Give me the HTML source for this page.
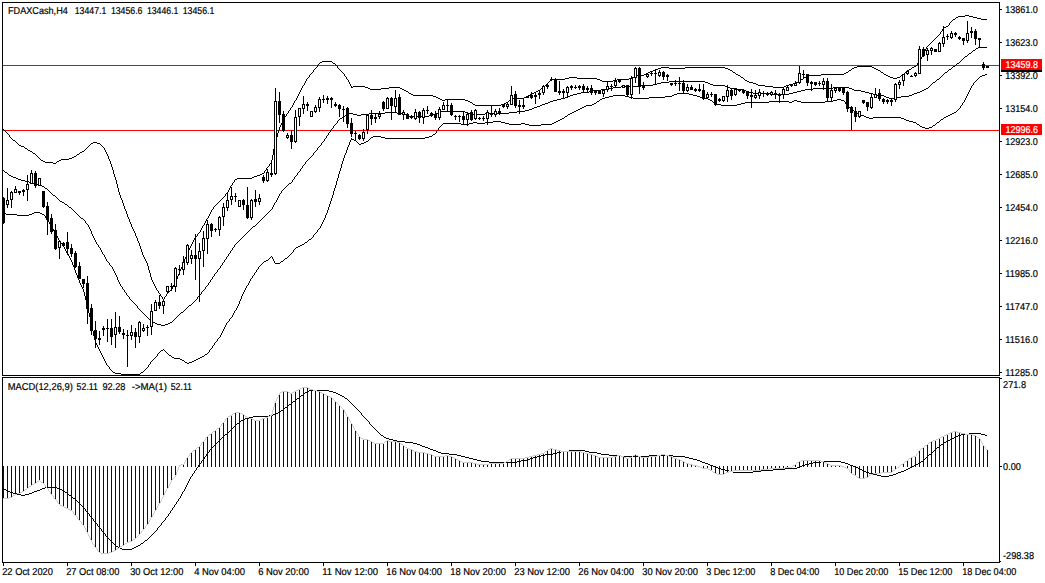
<!DOCTYPE html><html><head><meta charset="utf-8"><title>FDAXCash,H4</title>
<style>html,body{margin:0;padding:0;background:#fff;overflow:hidden}svg{display:block}text{font-family:"Liberation Sans",Arial,sans-serif;font-size:10.0px;fill:#000;white-space:pre;text-rendering:geometricPrecision;stroke:#000;stroke-width:.2px}text.w{fill:#fff;stroke:#fff}</style></head><body>
<svg width="1045" height="583" viewBox="0 0 1045 583" shape-rendering="crispEdges">
<rect x="0" y="0" width="1045" height="583" fill="#fff"/>
<rect x="3" y="65" width="997" height="1" fill="#f00"/>
<rect x="3" y="130" width="997" height="1" fill="#f00"/>
<path d="M965 15h4v1h-4zM958 16h7v1h-7zM969 16h4v1h-4zM956 17h2v1h-2zM973 17h4v1h-4zM955 18h1v1h-1zM977 18h4v1h-4zM953 19h2v1h-2zM981 19h6v1h-6zM952 20h1v1h-1zM951 21h1v1h-1zM950 22h1v1h-1zM949 23h1v1h-1zM949 24h1v1h-1zM948 25h1v1h-1zM946 26h2v1h-2zM944 27h2v1h-2zM943 28h1v1h-1zM942 29h1v1h-1zM942 30h1v1h-1zM941 31h1v1h-1zM940 32h1v1h-1zM940 33h1v1h-1zM939 34h1v1h-1zM938 35h1v1h-1zM937 36h1v1h-1zM936 37h1v1h-1zM935 38h1v1h-1zM934 39h1v1h-1zM933 40h1v1h-1zM932 41h1v1h-1zM931 42h1v1h-1zM930 43h1v1h-1zM929 44h1v1h-1zM928 45h1v1h-1zM927 46h1v1h-1zM926 47h1v1h-1zM926 48h1v1h-1zM925 49h1v1h-1zM925 50h1v1h-1zM924 51h1v1h-1zM924 52h1v1h-1zM923 53h1v1h-1zM923 54h1v1h-1zM922 55h1v1h-1zM922 56h1v1h-1zM921 57h1v1h-1zM921 58h1v1h-1zM920 59h1v1h-1zM920 60h1v1h-1zM322 61h10v1h-10zM919 61h1v1h-1zM320 62h2v1h-2zM332 62h1v1h-1zM918 62h1v1h-1zM319 63h1v1h-1zM333 63h2v1h-2zM917 63h1v1h-1zM318 64h1v1h-1zM335 64h1v1h-1zM917 64h1v1h-1zM317 65h1v1h-1zM336 65h1v1h-1zM916 65h1v1h-1zM317 66h1v1h-1zM337 66h1v1h-1zM857 66h15v1h-15zM914 66h2v1h-2zM316 67h1v1h-1zM337 67h1v1h-1zM661 67h8v1h-8zM685 67h40v1h-40zM854 67h3v1h-3zM872 67h2v1h-2zM912 67h2v1h-2zM315 68h1v1h-1zM338 68h1v1h-1zM658 68h3v1h-3zM669 68h16v1h-16zM725 68h3v1h-3zM852 68h2v1h-2zM874 68h2v1h-2zM911 68h1v1h-1zM314 69h1v1h-1zM339 69h1v1h-1zM656 69h2v1h-2zM728 69h2v1h-2zM851 69h1v1h-1zM876 69h2v1h-2zM909 69h2v1h-2zM313 70h1v1h-1zM340 70h1v1h-1zM653 70h3v1h-3zM730 70h2v1h-2zM849 70h2v1h-2zM878 70h2v1h-2zM908 70h1v1h-1zM313 71h1v1h-1zM341 71h1v1h-1zM650 71h3v1h-3zM732 71h1v1h-1zM848 71h1v1h-1zM880 71h1v1h-1zM907 71h1v1h-1zM312 72h1v1h-1zM342 72h1v1h-1zM648 72h2v1h-2zM733 72h2v1h-2zM846 72h2v1h-2zM881 72h2v1h-2zM905 72h2v1h-2zM311 73h1v1h-1zM343 73h1v1h-1zM646 73h2v1h-2zM735 73h1v1h-1zM844 73h2v1h-2zM883 73h1v1h-1zM904 73h1v1h-1zM310 74h1v1h-1zM344 74h1v1h-1zM644 74h2v1h-2zM736 74h2v1h-2zM821 74h23v1h-23zM884 74h2v1h-2zM903 74h1v1h-1zM309 75h1v1h-1zM344 75h1v1h-1zM637 75h7v1h-7zM738 75h2v1h-2zM809 75h12v1h-12zM886 75h2v1h-2zM901 75h2v1h-2zM309 76h1v1h-1zM345 76h1v1h-1zM634 76h3v1h-3zM740 76h1v1h-1zM806 76h3v1h-3zM888 76h2v1h-2zM900 76h1v1h-1zM308 77h1v1h-1zM346 77h1v1h-1zM569 77h8v1h-8zM632 77h2v1h-2zM741 77h2v1h-2zM804 77h2v1h-2zM890 77h3v1h-3zM897 77h3v1h-3zM307 78h1v1h-1zM346 78h1v1h-1zM565 78h4v1h-4zM577 78h20v1h-20zM629 78h3v1h-3zM743 78h1v1h-1zM803 78h1v1h-1zM893 78h4v1h-4zM306 79h1v1h-1zM347 79h1v1h-1zM551 79h14v1h-14zM597 79h3v1h-3zM617 79h12v1h-12zM744 79h1v1h-1zM801 79h2v1h-2zM306 80h1v1h-1zM348 80h1v1h-1zM550 80h1v1h-1zM600 80h2v1h-2zM613 80h4v1h-4zM745 80h2v1h-2zM800 80h1v1h-1zM305 81h1v1h-1zM348 81h1v1h-1zM549 81h1v1h-1zM602 81h11v1h-11zM747 81h2v1h-2zM798 81h2v1h-2zM305 82h1v1h-1zM349 82h1v1h-1zM548 82h1v1h-1zM749 82h4v1h-4zM796 82h2v1h-2zM304 83h1v1h-1zM349 83h1v1h-1zM547 83h1v1h-1zM753 83h3v1h-3zM793 83h3v1h-3zM304 84h1v1h-1zM350 84h1v1h-1zM546 84h1v1h-1zM756 84h2v1h-2zM789 84h4v1h-4zM303 85h1v1h-1zM350 85h1v1h-1zM545 85h1v1h-1zM758 85h7v1h-7zM786 85h3v1h-3zM302 86h1v1h-1zM351 86h1v1h-1zM353 86h12v1h-12zM544 86h1v1h-1zM765 86h8v1h-8zM784 86h2v1h-2zM302 87h1v1h-1zM351 87h2v1h-2zM365 87h3v1h-3zM389 87h11v1h-11zM543 87h1v1h-1zM773 87h11v1h-11zM301 88h1v1h-1zM368 88h2v1h-2zM381 88h8v1h-8zM400 88h2v1h-2zM541 88h2v1h-2zM301 89h1v1h-1zM370 89h11v1h-11zM402 89h2v1h-2zM540 89h1v1h-1zM300 90h1v1h-1zM404 90h2v1h-2zM538 90h2v1h-2zM300 91h1v1h-1zM406 91h2v1h-2zM536 91h2v1h-2zM299 92h1v1h-1zM408 92h1v1h-1zM534 92h2v1h-2zM299 93h1v1h-1zM409 93h2v1h-2zM532 93h2v1h-2zM298 94h1v1h-1zM411 94h2v1h-2zM530 94h2v1h-2zM298 95h1v1h-1zM413 95h20v1h-20zM528 95h2v1h-2zM297 96h1v1h-1zM433 96h3v1h-3zM526 96h2v1h-2zM297 97h1v1h-1zM436 97h2v1h-2zM524 97h2v1h-2zM296 98h1v1h-1zM438 98h2v1h-2zM511 98h13v1h-13zM296 99h1v1h-1zM440 99h2v1h-2zM445 99h20v1h-20zM510 99h1v1h-1zM295 100h1v1h-1zM442 100h3v1h-3zM465 100h3v1h-3zM509 100h1v1h-1zM294 101h1v1h-1zM468 101h2v1h-2zM508 101h1v1h-1zM294 102h1v1h-1zM470 102h2v1h-2zM506 102h2v1h-2zM293 103h1v1h-1zM472 103h1v1h-1zM504 103h2v1h-2zM293 104h1v1h-1zM473 104h2v1h-2zM501 104h3v1h-3zM292 105h1v1h-1zM475 105h26v1h-26zM292 106h1v1h-1zM291 107h1v1h-1zM290 108h1v1h-1zM290 109h1v1h-1zM289 110h1v1h-1zM288 111h1v1h-1zM288 112h1v1h-1zM287 113h1v1h-1zM286 114h1v1h-1zM286 115h1v1h-1zM285 116h1v1h-1zM284 117h1v1h-1zM284 118h1v1h-1zM283 119h1v1h-1zM283 120h1v1h-1zM282 121h1v1h-1zM282 122h1v1h-1zM281 123h1v1h-1zM281 124h1v1h-1zM280 125h1v1h-1zM280 126h1v1h-1zM279 127h1v1h-1zM279 128h1v1h-1zM3 129h1v1h-1zM279 129h1v1h-1zM4 130h1v1h-1zM278 130h1v1h-1zM5 131h1v1h-1zM278 131h1v1h-1zM6 132h1v1h-1zM278 132h1v1h-1zM7 133h1v1h-1zM277 133h1v1h-1zM8 134h1v1h-1zM277 134h1v1h-1zM9 135h1v1h-1zM277 135h1v1h-1zM9 136h1v1h-1zM277 136h1v1h-1zM10 137h1v1h-1zM276 137h1v1h-1zM11 138h1v1h-1zM276 138h1v1h-1zM12 139h1v1h-1zM276 139h1v1h-1zM13 140h2v1h-2zM275 140h1v1h-1zM15 141h1v1h-1zM275 141h1v1h-1zM16 142h1v1h-1zM93 142h4v1h-4zM275 142h1v1h-1zM17 143h1v1h-1zM91 143h2v1h-2zM97 143h3v1h-3zM275 143h1v1h-1zM18 144h1v1h-1zM90 144h1v1h-1zM100 144h1v1h-1zM274 144h1v1h-1zM19 145h2v1h-2zM89 145h1v1h-1zM101 145h1v1h-1zM274 145h1v1h-1zM21 146h3v1h-3zM88 146h1v1h-1zM102 146h1v1h-1zM274 146h1v1h-1zM24 147h1v1h-1zM87 147h1v1h-1zM103 147h1v1h-1zM274 147h1v1h-1zM25 148h2v1h-2zM86 148h1v1h-1zM104 148h1v1h-1zM274 148h1v1h-1zM27 149h1v1h-1zM85 149h1v1h-1zM104 149h1v1h-1zM273 149h1v1h-1zM28 150h2v1h-2zM84 150h1v1h-1zM105 150h1v1h-1zM273 150h1v1h-1zM30 151h2v1h-2zM82 151h2v1h-2zM105 151h1v1h-1zM273 151h1v1h-1zM32 152h1v1h-1zM80 152h2v1h-2zM106 152h1v1h-1zM273 152h1v1h-1zM33 153h2v1h-2zM79 153h1v1h-1zM106 153h1v1h-1zM273 153h1v1h-1zM35 154h1v1h-1zM77 154h2v1h-2zM107 154h1v1h-1zM273 154h1v1h-1zM36 155h1v1h-1zM76 155h1v1h-1zM107 155h1v1h-1zM272 155h1v1h-1zM37 156h1v1h-1zM74 156h2v1h-2zM108 156h1v1h-1zM272 156h1v1h-1zM38 157h1v1h-1zM72 157h2v1h-2zM108 157h1v1h-1zM272 157h1v1h-1zM39 158h1v1h-1zM69 158h3v1h-3zM108 158h1v1h-1zM272 158h1v1h-1zM40 159h1v1h-1zM61 159h8v1h-8zM109 159h1v1h-1zM272 159h1v1h-1zM41 160h2v1h-2zM59 160h2v1h-2zM109 160h1v1h-1zM271 160h1v1h-1zM43 161h2v1h-2zM57 161h2v1h-2zM110 161h1v1h-1zM271 161h1v1h-1zM45 162h8v1h-8zM56 162h1v1h-1zM110 162h1v1h-1zM271 162h1v1h-1zM53 163h3v1h-3zM110 163h1v1h-1zM270 163h1v1h-1zM111 164h1v1h-1zM269 164h1v1h-1zM111 165h1v1h-1zM269 165h1v1h-1zM111 166h1v1h-1zM268 166h1v1h-1zM112 167h1v1h-1zM267 167h1v1h-1zM112 168h1v1h-1zM266 168h1v1h-1zM112 169h1v1h-1zM266 169h1v1h-1zM113 170h1v1h-1zM265 170h1v1h-1zM113 171h1v1h-1zM264 171h1v1h-1zM113 172h1v1h-1zM264 172h1v1h-1zM113 173h1v1h-1zM262 173h2v1h-2zM114 174h1v1h-1zM260 174h2v1h-2zM114 175h1v1h-1zM257 175h3v1h-3zM114 176h1v1h-1zM254 176h3v1h-3zM115 177h1v1h-1zM252 177h2v1h-2zM115 178h1v1h-1zM237 178h15v1h-15zM115 179h1v1h-1zM235 179h2v1h-2zM116 180h1v1h-1zM234 180h1v1h-1zM116 181h1v1h-1zM234 181h1v1h-1zM116 182h1v1h-1zM233 182h1v1h-1zM116 183h1v1h-1zM232 183h1v1h-1zM117 184h1v1h-1zM232 184h1v1h-1zM117 185h1v1h-1zM231 185h1v1h-1zM117 186h1v1h-1zM230 186h1v1h-1zM117 187h1v1h-1zM230 187h1v1h-1zM118 188h1v1h-1zM229 188h1v1h-1zM118 189h1v1h-1zM229 189h1v1h-1zM118 190h1v1h-1zM228 190h1v1h-1zM118 191h1v1h-1zM228 191h1v1h-1zM119 192h1v1h-1zM227 192h1v1h-1zM119 193h1v1h-1zM226 193h1v1h-1zM119 194h1v1h-1zM225 194h1v1h-1zM120 195h1v1h-1zM225 195h1v1h-1zM120 196h1v1h-1zM224 196h1v1h-1zM120 197h1v1h-1zM223 197h1v1h-1zM121 198h1v1h-1zM222 198h1v1h-1zM121 199h1v1h-1zM221 199h1v1h-1zM122 200h1v1h-1zM220 200h1v1h-1zM122 201h1v1h-1zM219 201h1v1h-1zM122 202h1v1h-1zM218 202h1v1h-1zM123 203h1v1h-1zM217 203h1v1h-1zM123 204h1v1h-1zM216 204h1v1h-1zM123 205h1v1h-1zM215 205h1v1h-1zM124 206h1v1h-1zM214 206h1v1h-1zM124 207h1v1h-1zM213 207h1v1h-1zM124 208h1v1h-1zM213 208h1v1h-1zM125 209h1v1h-1zM212 209h1v1h-1zM125 210h1v1h-1zM211 210h1v1h-1zM126 211h1v1h-1zM211 211h1v1h-1zM126 212h1v1h-1zM210 212h1v1h-1zM126 213h1v1h-1zM210 213h1v1h-1zM127 214h1v1h-1zM209 214h1v1h-1zM127 215h1v1h-1zM209 215h1v1h-1zM127 216h1v1h-1zM208 216h1v1h-1zM128 217h1v1h-1zM208 217h1v1h-1zM128 218h1v1h-1zM207 218h1v1h-1zM129 219h1v1h-1zM206 219h1v1h-1zM129 220h1v1h-1zM206 220h1v1h-1zM129 221h1v1h-1zM205 221h1v1h-1zM130 222h1v1h-1zM205 222h1v1h-1zM130 223h1v1h-1zM204 223h1v1h-1zM131 224h1v1h-1zM204 224h1v1h-1zM131 225h1v1h-1zM203 225h1v1h-1zM131 226h1v1h-1zM202 226h1v1h-1zM132 227h1v1h-1zM202 227h1v1h-1zM132 228h1v1h-1zM201 228h1v1h-1zM133 229h1v1h-1zM201 229h1v1h-1zM133 230h1v1h-1zM200 230h1v1h-1zM134 231h1v1h-1zM200 231h1v1h-1zM134 232h1v1h-1zM199 232h1v1h-1zM135 233h1v1h-1zM198 233h1v1h-1zM135 234h1v1h-1zM197 234h1v1h-1zM135 235h1v1h-1zM197 235h1v1h-1zM136 236h1v1h-1zM196 236h1v1h-1zM136 237h1v1h-1zM195 237h1v1h-1zM137 238h1v1h-1zM194 238h1v1h-1zM137 239h1v1h-1zM194 239h1v1h-1zM137 240h1v1h-1zM193 240h1v1h-1zM138 241h1v1h-1zM193 241h1v1h-1zM138 242h1v1h-1zM192 242h1v1h-1zM139 243h1v1h-1zM192 243h1v1h-1zM139 244h1v1h-1zM191 244h1v1h-1zM139 245h1v1h-1zM191 245h1v1h-1zM140 246h1v1h-1zM190 246h1v1h-1zM140 247h1v1h-1zM190 247h1v1h-1zM140 248h1v1h-1zM189 248h1v1h-1zM141 249h1v1h-1zM189 249h1v1h-1zM141 250h1v1h-1zM188 250h1v1h-1zM141 251h1v1h-1zM188 251h1v1h-1zM142 252h1v1h-1zM187 252h1v1h-1zM142 253h1v1h-1zM187 253h1v1h-1zM142 254h1v1h-1zM186 254h1v1h-1zM143 255h1v1h-1zM186 255h1v1h-1zM143 256h1v1h-1zM186 256h1v1h-1zM144 257h1v1h-1zM185 257h1v1h-1zM144 258h1v1h-1zM185 258h1v1h-1zM145 259h1v1h-1zM184 259h1v1h-1zM145 260h1v1h-1zM184 260h1v1h-1zM146 261h1v1h-1zM184 261h1v1h-1zM146 262h1v1h-1zM183 262h1v1h-1zM147 263h1v1h-1zM183 263h1v1h-1zM147 264h1v1h-1zM183 264h1v1h-1zM147 265h1v1h-1zM182 265h1v1h-1zM148 266h1v1h-1zM182 266h1v1h-1zM148 267h1v1h-1zM181 267h1v1h-1zM148 268h1v1h-1zM181 268h1v1h-1zM148 269h1v1h-1zM180 269h1v1h-1zM149 270h1v1h-1zM180 270h1v1h-1zM149 271h1v1h-1zM179 271h1v1h-1zM149 272h1v1h-1zM179 272h1v1h-1zM150 273h1v1h-1zM179 273h1v1h-1zM150 274h1v1h-1zM178 274h1v1h-1zM150 275h1v1h-1zM178 275h1v1h-1zM150 276h1v1h-1zM177 276h1v1h-1zM151 277h1v1h-1zM177 277h1v1h-1zM151 278h1v1h-1zM177 278h1v1h-1zM151 279h1v1h-1zM176 279h1v1h-1zM152 280h1v1h-1zM176 280h1v1h-1zM152 281h1v1h-1zM175 281h1v1h-1zM153 282h1v1h-1zM175 282h1v1h-1zM153 283h1v1h-1zM174 283h1v1h-1zM154 284h1v1h-1zM174 284h1v1h-1zM154 285h1v1h-1zM173 285h1v1h-1zM155 286h1v1h-1zM173 286h1v1h-1zM155 287h1v1h-1zM172 287h1v1h-1zM156 288h1v1h-1zM172 288h1v1h-1zM156 289h1v1h-1zM171 289h1v1h-1zM157 290h1v1h-1zM170 290h1v1h-1zM158 291h1v1h-1zM169 291h1v1h-1zM158 292h1v1h-1zM168 292h1v1h-1zM159 293h1v1h-1zM167 293h1v1h-1zM160 294h1v1h-1zM166 294h1v1h-1zM160 295h1v1h-1zM166 295h1v1h-1zM161 296h1v1h-1zM165 296h1v1h-1zM162 297h1v1h-1zM164 297h1v1h-1zM162 298h1v1h-1zM164 298h1v1h-1zM163 299h1v1h-1z" fill="#000"/>
<path d="M978 47h9v1h-9zM976 48h2v1h-2zM975 49h1v1h-1zM973 50h2v1h-2zM972 51h1v1h-1zM971 52h1v1h-1zM969 53h2v1h-2zM968 54h1v1h-1zM967 55h1v1h-1zM965 56h2v1h-2zM964 57h1v1h-1zM963 58h1v1h-1zM962 59h1v1h-1zM961 60h1v1h-1zM960 61h1v1h-1zM959 62h1v1h-1zM957 63h2v1h-2zM956 64h1v1h-1zM955 65h1v1h-1zM953 66h2v1h-2zM952 67h1v1h-1zM951 68h1v1h-1zM949 69h2v1h-2zM948 70h1v1h-1zM947 71h1v1h-1zM945 72h2v1h-2zM944 73h1v1h-1zM943 74h1v1h-1zM942 75h1v1h-1zM941 76h1v1h-1zM940 77h1v1h-1zM939 78h1v1h-1zM937 79h2v1h-2zM936 80h1v1h-1zM669 81h36v1h-36zM935 81h1v1h-1zM661 82h8v1h-8zM705 82h3v1h-3zM933 82h2v1h-2zM657 83h4v1h-4zM708 83h2v1h-2zM932 83h1v1h-1zM653 84h4v1h-4zM710 84h3v1h-3zM931 84h1v1h-1zM641 85h12v1h-12zM713 85h12v1h-12zM930 85h1v1h-1zM621 86h20v1h-20zM725 86h3v1h-3zM929 86h1v1h-1zM613 87h8v1h-8zM728 87h2v1h-2zM833 87h16v1h-16zM928 87h1v1h-1zM609 88h4v1h-4zM730 88h7v1h-7zM813 88h20v1h-20zM849 88h3v1h-3zM926 88h2v1h-2zM601 89h8v1h-8zM737 89h7v1h-7zM805 89h8v1h-8zM852 89h2v1h-2zM924 89h2v1h-2zM593 90h8v1h-8zM744 90h2v1h-2zM801 90h4v1h-4zM854 90h7v1h-7zM922 90h2v1h-2zM589 91h4v1h-4zM746 91h3v1h-3zM797 91h4v1h-4zM861 91h4v1h-4zM920 91h2v1h-2zM581 92h8v1h-8zM749 92h4v1h-4zM793 92h4v1h-4zM865 92h4v1h-4zM917 92h3v1h-3zM577 93h4v1h-4zM753 93h20v1h-20zM789 93h4v1h-4zM869 93h4v1h-4zM914 93h3v1h-3zM573 94h4v1h-4zM773 94h16v1h-16zM873 94h4v1h-4zM912 94h2v1h-2zM570 95h3v1h-3zM877 95h7v1h-7zM909 95h3v1h-3zM568 96h2v1h-2zM884 96h2v1h-2zM901 96h8v1h-8zM565 97h3v1h-3zM886 97h3v1h-3zM897 97h4v1h-4zM561 98h4v1h-4zM889 98h8v1h-8zM557 99h4v1h-4zM553 100h4v1h-4zM550 101h3v1h-3zM548 102h2v1h-2zM545 103h3v1h-3zM542 104h3v1h-3zM540 105h2v1h-2zM537 106h3v1h-3zM534 107h3v1h-3zM532 108h2v1h-2zM529 109h3v1h-3zM525 110h4v1h-4zM441 111h24v1h-24zM517 111h8v1h-8zM385 112h12v1h-12zM438 112h3v1h-3zM465 112h3v1h-3zM509 112h8v1h-8zM349 113h4v1h-4zM369 113h16v1h-16zM397 113h7v1h-7zM436 113h2v1h-2zM468 113h2v1h-2zM485 113h24v1h-24zM347 114h2v1h-2zM353 114h4v1h-4zM361 114h8v1h-8zM404 114h2v1h-2zM433 114h3v1h-3zM470 114h15v1h-15zM345 115h2v1h-2zM357 115h4v1h-4zM406 115h3v1h-3zM429 115h4v1h-4zM344 116h1v1h-1zM409 116h20v1h-20zM342 117h2v1h-2zM340 118h2v1h-2zM339 119h1v1h-1zM338 120h1v1h-1zM337 121h1v1h-1zM337 122h1v1h-1zM336 123h1v1h-1zM335 124h1v1h-1zM334 125h1v1h-1zM333 126h1v1h-1zM333 127h1v1h-1zM332 128h1v1h-1zM331 129h1v1h-1zM330 130h1v1h-1zM330 131h1v1h-1zM329 132h1v1h-1zM328 133h1v1h-1zM328 134h1v1h-1zM327 135h1v1h-1zM326 136h1v1h-1zM326 137h1v1h-1zM325 138h1v1h-1zM324 139h1v1h-1zM324 140h1v1h-1zM323 141h1v1h-1zM322 142h1v1h-1zM321 143h1v1h-1zM321 144h1v1h-1zM320 145h1v1h-1zM319 146h1v1h-1zM318 147h1v1h-1zM317 148h1v1h-1zM317 149h1v1h-1zM316 150h1v1h-1zM315 151h1v1h-1zM314 152h1v1h-1zM313 153h1v1h-1zM313 154h1v1h-1zM312 155h1v1h-1zM311 156h1v1h-1zM310 157h1v1h-1zM309 158h1v1h-1zM308 159h1v1h-1zM307 160h1v1h-1zM306 161h1v1h-1zM305 162h1v1h-1zM305 163h1v1h-1zM304 164h1v1h-1zM303 165h1v1h-1zM302 166h1v1h-1zM302 167h1v1h-1zM301 168h1v1h-1zM300 169h1v1h-1zM3 170h1v1h-1zM300 170h1v1h-1zM4 171h1v1h-1zM299 171h1v1h-1zM5 172h2v1h-2zM298 172h1v1h-1zM7 173h1v1h-1zM297 173h1v1h-1zM8 174h1v1h-1zM297 174h1v1h-1zM9 175h2v1h-2zM296 175h1v1h-1zM11 176h2v1h-2zM295 176h1v1h-1zM13 177h3v1h-3zM294 177h1v1h-1zM16 178h2v1h-2zM294 178h1v1h-1zM18 179h3v1h-3zM293 179h1v1h-1zM21 180h4v1h-4zM292 180h1v1h-1zM25 181h4v1h-4zM292 181h1v1h-1zM29 182h4v1h-4zM291 182h1v1h-1zM33 183h4v1h-4zM289 183h2v1h-2zM37 184h3v1h-3zM288 184h1v1h-1zM40 185h2v1h-2zM287 185h1v1h-1zM42 186h2v1h-2zM286 186h1v1h-1zM44 187h1v1h-1zM285 187h1v1h-1zM45 188h2v1h-2zM284 188h1v1h-1zM47 189h1v1h-1zM283 189h1v1h-1zM48 190h1v1h-1zM282 190h1v1h-1zM49 191h1v1h-1zM281 191h1v1h-1zM50 192h1v1h-1zM281 192h1v1h-1zM51 193h1v1h-1zM280 193h1v1h-1zM52 194h1v1h-1zM279 194h1v1h-1zM53 195h2v1h-2zM279 195h1v1h-1zM55 196h1v1h-1zM278 196h1v1h-1zM56 197h1v1h-1zM278 197h1v1h-1zM57 198h1v1h-1zM277 198h1v1h-1zM58 199h1v1h-1zM277 199h1v1h-1zM59 200h1v1h-1zM276 200h1v1h-1zM60 201h2v1h-2zM276 201h1v1h-1zM62 202h2v1h-2zM275 202h1v1h-1zM64 203h1v1h-1zM274 203h1v1h-1zM65 204h2v1h-2zM274 204h1v1h-1zM67 205h1v1h-1zM273 205h1v1h-1zM68 206h1v1h-1zM273 206h1v1h-1zM69 207h2v1h-2zM272 207h1v1h-1zM71 208h1v1h-1zM272 208h1v1h-1zM72 209h1v1h-1zM271 209h1v1h-1zM73 210h1v1h-1zM270 210h1v1h-1zM74 211h1v1h-1zM269 211h1v1h-1zM75 212h1v1h-1zM268 212h1v1h-1zM76 213h1v1h-1zM267 213h1v1h-1zM77 214h1v1h-1zM266 214h1v1h-1zM78 215h1v1h-1zM265 215h1v1h-1zM79 216h1v1h-1zM264 216h1v1h-1zM80 217h1v1h-1zM263 217h1v1h-1zM81 218h2v1h-2zM262 218h1v1h-1zM83 219h1v1h-1zM261 219h1v1h-1zM84 220h1v1h-1zM260 220h1v1h-1zM85 221h1v1h-1zM259 221h1v1h-1zM85 222h1v1h-1zM258 222h1v1h-1zM86 223h1v1h-1zM257 223h1v1h-1zM87 224h1v1h-1zM256 224h1v1h-1zM88 225h1v1h-1zM255 225h1v1h-1zM88 226h1v1h-1zM253 226h2v1h-2zM89 227h1v1h-1zM252 227h1v1h-1zM89 228h1v1h-1zM251 228h1v1h-1zM90 229h1v1h-1zM250 229h1v1h-1zM90 230h1v1h-1zM249 230h1v1h-1zM91 231h1v1h-1zM248 231h1v1h-1zM91 232h1v1h-1zM247 232h1v1h-1zM91 233h1v1h-1zM246 233h1v1h-1zM92 234h1v1h-1zM245 234h1v1h-1zM92 235h1v1h-1zM244 235h1v1h-1zM93 236h1v1h-1zM243 236h1v1h-1zM93 237h1v1h-1zM242 237h1v1h-1zM94 238h1v1h-1zM241 238h1v1h-1zM94 239h1v1h-1zM240 239h1v1h-1zM95 240h1v1h-1zM239 240h1v1h-1zM95 241h1v1h-1zM238 241h1v1h-1zM96 242h1v1h-1zM237 242h1v1h-1zM96 243h1v1h-1zM236 243h1v1h-1zM97 244h1v1h-1zM235 244h1v1h-1zM98 245h1v1h-1zM234 245h1v1h-1zM98 246h1v1h-1zM234 246h1v1h-1zM99 247h1v1h-1zM233 247h1v1h-1zM100 248h1v1h-1zM232 248h1v1h-1zM100 249h1v1h-1zM232 249h1v1h-1zM101 250h1v1h-1zM231 250h1v1h-1zM101 251h1v1h-1zM230 251h1v1h-1zM102 252h1v1h-1zM230 252h1v1h-1zM102 253h1v1h-1zM229 253h1v1h-1zM103 254h1v1h-1zM228 254h1v1h-1zM104 255h1v1h-1zM228 255h1v1h-1zM104 256h1v1h-1zM227 256h1v1h-1zM105 257h1v1h-1zM226 257h1v1h-1zM105 258h1v1h-1zM226 258h1v1h-1zM106 259h1v1h-1zM225 259h1v1h-1zM106 260h1v1h-1zM224 260h1v1h-1zM107 261h1v1h-1zM224 261h1v1h-1zM108 262h1v1h-1zM223 262h1v1h-1zM109 263h1v1h-1zM222 263h1v1h-1zM109 264h1v1h-1zM222 264h1v1h-1zM110 265h1v1h-1zM221 265h1v1h-1zM111 266h1v1h-1zM220 266h1v1h-1zM112 267h1v1h-1zM220 267h1v1h-1zM112 268h1v1h-1zM219 268h1v1h-1zM113 269h1v1h-1zM218 269h1v1h-1zM113 270h1v1h-1zM217 270h1v1h-1zM114 271h1v1h-1zM217 271h1v1h-1zM114 272h1v1h-1zM216 272h1v1h-1zM115 273h1v1h-1zM215 273h1v1h-1zM115 274h1v1h-1zM214 274h1v1h-1zM116 275h1v1h-1zM214 275h1v1h-1zM116 276h1v1h-1zM213 276h1v1h-1zM117 277h1v1h-1zM212 277h1v1h-1zM117 278h1v1h-1zM212 278h1v1h-1zM117 279h1v1h-1zM211 279h1v1h-1zM118 280h1v1h-1zM210 280h1v1h-1zM118 281h1v1h-1zM210 281h1v1h-1zM119 282h1v1h-1zM209 282h1v1h-1zM119 283h1v1h-1zM208 283h1v1h-1zM120 284h1v1h-1zM208 284h1v1h-1zM120 285h1v1h-1zM207 285h1v1h-1zM121 286h1v1h-1zM206 286h1v1h-1zM122 287h1v1h-1zM205 287h1v1h-1zM122 288h1v1h-1zM205 288h1v1h-1zM123 289h1v1h-1zM204 289h1v1h-1zM124 290h1v1h-1zM203 290h1v1h-1zM124 291h1v1h-1zM202 291h1v1h-1zM125 292h1v1h-1zM201 292h1v1h-1zM126 293h1v1h-1zM201 293h1v1h-1zM126 294h1v1h-1zM200 294h1v1h-1zM127 295h1v1h-1zM199 295h1v1h-1zM128 296h1v1h-1zM198 296h1v1h-1zM129 297h1v1h-1zM197 297h1v1h-1zM129 298h1v1h-1zM197 298h1v1h-1zM130 299h1v1h-1zM196 299h1v1h-1zM131 300h1v1h-1zM195 300h1v1h-1zM132 301h1v1h-1zM194 301h1v1h-1zM133 302h1v1h-1zM193 302h1v1h-1zM134 303h1v1h-1zM192 303h1v1h-1zM135 304h1v1h-1zM191 304h1v1h-1zM136 305h1v1h-1zM189 305h2v1h-2zM137 306h1v1h-1zM188 306h1v1h-1zM137 307h1v1h-1zM187 307h1v1h-1zM138 308h1v1h-1zM186 308h1v1h-1zM139 309h1v1h-1zM185 309h1v1h-1zM140 310h1v1h-1zM184 310h1v1h-1zM141 311h1v1h-1zM183 311h1v1h-1zM142 312h1v1h-1zM181 312h2v1h-2zM143 313h1v1h-1zM180 313h1v1h-1zM144 314h1v1h-1zM179 314h1v1h-1zM145 315h1v1h-1zM178 315h1v1h-1zM146 316h1v1h-1zM177 316h1v1h-1zM147 317h1v1h-1zM176 317h1v1h-1zM148 318h1v1h-1zM175 318h1v1h-1zM149 319h2v1h-2zM174 319h1v1h-1zM151 320h1v1h-1zM173 320h1v1h-1zM152 321h1v1h-1zM172 321h1v1h-1zM153 322h2v1h-2zM170 322h2v1h-2zM155 323h2v1h-2zM168 323h2v1h-2zM157 324h4v1h-4zM165 324h3v1h-3zM161 325h4v1h-4z" fill="#000"/>
<path d="M985 74h2v1h-2zM982 75h3v1h-3zM980 76h2v1h-2zM979 77h1v1h-1zM978 78h1v1h-1zM977 79h1v1h-1zM976 80h1v1h-1zM975 81h1v1h-1zM974 82h1v1h-1zM973 83h1v1h-1zM973 84h1v1h-1zM972 85h1v1h-1zM971 86h1v1h-1zM971 87h1v1h-1zM970 88h1v1h-1zM970 89h1v1h-1zM969 90h1v1h-1zM969 91h1v1h-1zM968 92h1v1h-1zM677 93h12v1h-12zM968 93h1v1h-1zM674 94h3v1h-3zM689 94h4v1h-4zM967 94h1v1h-1zM613 95h12v1h-12zM672 95h2v1h-2zM693 95h4v1h-4zM967 95h1v1h-1zM609 96h4v1h-4zM625 96h4v1h-4zM665 96h7v1h-7zM697 96h3v1h-3zM966 96h1v1h-1zM605 97h4v1h-4zM629 97h4v1h-4zM649 97h16v1h-16zM700 97h2v1h-2zM966 97h1v1h-1zM602 98h3v1h-3zM633 98h16v1h-16zM702 98h6v1h-6zM965 98h1v1h-1zM600 99h2v1h-2zM708 99h2v1h-2zM837 99h4v1h-4zM965 99h1v1h-1zM599 100h1v1h-1zM710 100h2v1h-2zM794 100h3v1h-3zM833 100h4v1h-4zM841 100h3v1h-3zM964 100h1v1h-1zM597 101h2v1h-2zM712 101h1v1h-1zM769 101h20v1h-20zM792 101h2v1h-2zM797 101h4v1h-4zM825 101h8v1h-8zM844 101h1v1h-1zM964 101h1v1h-1zM596 102h1v1h-1zM713 102h2v1h-2zM745 102h24v1h-24zM789 102h3v1h-3zM801 102h24v1h-24zM845 102h1v1h-1zM963 102h1v1h-1zM594 103h2v1h-2zM715 103h2v1h-2zM741 103h4v1h-4zM845 103h1v1h-1zM962 103h1v1h-1zM592 104h2v1h-2zM717 104h4v1h-4zM737 104h4v1h-4zM846 104h1v1h-1zM962 104h1v1h-1zM586 105h6v1h-6zM721 105h16v1h-16zM847 105h1v1h-1zM961 105h1v1h-1zM584 106h2v1h-2zM848 106h1v1h-1zM960 106h1v1h-1zM582 107h2v1h-2zM849 107h1v1h-1zM960 107h1v1h-1zM580 108h2v1h-2zM850 108h1v1h-1zM959 108h1v1h-1zM578 109h2v1h-2zM851 109h1v1h-1zM958 109h1v1h-1zM576 110h2v1h-2zM852 110h2v1h-2zM957 110h1v1h-1zM574 111h2v1h-2zM854 111h2v1h-2zM956 111h1v1h-1zM572 112h2v1h-2zM856 112h1v1h-1zM954 112h2v1h-2zM570 113h2v1h-2zM857 113h2v1h-2zM952 113h2v1h-2zM568 114h2v1h-2zM859 114h2v1h-2zM950 114h2v1h-2zM567 115h1v1h-1zM861 115h3v1h-3zM948 115h2v1h-2zM565 116h2v1h-2zM864 116h2v1h-2zM946 116h2v1h-2zM564 117h1v1h-1zM866 117h3v1h-3zM873 117h28v1h-28zM944 117h2v1h-2zM562 118h2v1h-2zM869 118h4v1h-4zM901 118h3v1h-3zM943 118h1v1h-1zM560 119h2v1h-2zM904 119h2v1h-2zM941 119h2v1h-2zM558 120h2v1h-2zM906 120h3v1h-3zM940 120h1v1h-1zM493 121h8v1h-8zM556 121h2v1h-2zM909 121h4v1h-4zM939 121h1v1h-1zM473 122h4v1h-4zM485 122h8v1h-8zM501 122h4v1h-4zM554 122h2v1h-2zM913 122h3v1h-3zM937 122h2v1h-2zM443 123h18v1h-18zM469 123h4v1h-4zM477 123h8v1h-8zM505 123h4v1h-4zM521 123h4v1h-4zM552 123h2v1h-2zM916 123h1v1h-1zM936 123h1v1h-1zM442 124h1v1h-1zM461 124h8v1h-8zM509 124h12v1h-12zM525 124h4v1h-4zM541 124h11v1h-11zM917 124h2v1h-2zM935 124h1v1h-1zM441 125h1v1h-1zM529 125h12v1h-12zM919 125h1v1h-1zM933 125h2v1h-2zM440 126h1v1h-1zM920 126h2v1h-2zM932 126h1v1h-1zM439 127h1v1h-1zM922 127h3v1h-3zM929 127h3v1h-3zM438 128h1v1h-1zM925 128h4v1h-4zM438 129h1v1h-1zM437 130h1v1h-1zM436 131h1v1h-1zM436 132h1v1h-1zM435 133h1v1h-1zM433 134h2v1h-2zM432 135h1v1h-1zM373 136h8v1h-8zM429 136h3v1h-3zM371 137h2v1h-2zM381 137h4v1h-4zM425 137h4v1h-4zM351 138h1v1h-1zM370 138h1v1h-1zM385 138h40v1h-40zM351 139h3v1h-3zM369 139h1v1h-1zM350 140h1v1h-1zM354 140h2v1h-2zM368 140h1v1h-1zM350 141h1v1h-1zM356 141h1v1h-1zM366 141h2v1h-2zM349 142h1v1h-1zM357 142h1v1h-1zM364 142h2v1h-2zM349 143h1v1h-1zM358 143h1v1h-1zM361 143h3v1h-3zM349 144h1v1h-1zM359 144h2v1h-2zM348 145h1v1h-1zM348 146h1v1h-1zM347 147h1v1h-1zM347 148h1v1h-1zM347 149h1v1h-1zM346 150h1v1h-1zM346 151h1v1h-1zM346 152h1v1h-1zM345 153h1v1h-1zM345 154h1v1h-1zM344 155h1v1h-1zM344 156h1v1h-1zM344 157h1v1h-1zM343 158h1v1h-1zM343 159h1v1h-1zM343 160h1v1h-1zM342 161h1v1h-1zM342 162h1v1h-1zM342 163h1v1h-1zM341 164h1v1h-1zM341 165h1v1h-1zM341 166h1v1h-1zM341 167h1v1h-1zM340 168h1v1h-1zM340 169h1v1h-1zM340 170h1v1h-1zM339 171h1v1h-1zM339 172h1v1h-1zM339 173h1v1h-1zM338 174h1v1h-1zM338 175h1v1h-1zM338 176h1v1h-1zM338 177h1v1h-1zM337 178h1v1h-1zM337 179h1v1h-1zM337 180h1v1h-1zM336 181h1v1h-1zM336 182h1v1h-1zM336 183h1v1h-1zM336 184h1v1h-1zM335 185h1v1h-1zM335 186h1v1h-1zM335 187h1v1h-1zM334 188h1v1h-1zM334 189h1v1h-1zM334 190h1v1h-1zM333 191h1v1h-1zM333 192h1v1h-1zM333 193h1v1h-1zM333 194h1v1h-1zM332 195h1v1h-1zM332 196h1v1h-1zM332 197h1v1h-1zM331 198h1v1h-1zM331 199h1v1h-1zM331 200h1v1h-1zM330 201h1v1h-1zM330 202h1v1h-1zM330 203h1v1h-1zM329 204h1v1h-1zM329 205h1v1h-1zM329 206h1v1h-1zM328 207h1v1h-1zM328 208h1v1h-1zM328 209h1v1h-1zM327 210h1v1h-1zM327 211h1v1h-1zM3 212h1v1h-1zM34 212h6v1h-6zM327 212h1v1h-1zM4 213h2v1h-2zM32 213h2v1h-2zM40 213h2v1h-2zM326 213h1v1h-1zM6 214h11v1h-11zM29 214h3v1h-3zM42 214h2v1h-2zM326 214h1v1h-1zM17 215h12v1h-12zM44 215h1v1h-1zM325 215h1v1h-1zM45 216h1v1h-1zM325 216h1v1h-1zM45 217h1v1h-1zM325 217h1v1h-1zM46 218h1v1h-1zM324 218h1v1h-1zM47 219h1v1h-1zM324 219h1v1h-1zM48 220h1v1h-1zM323 220h1v1h-1zM48 221h1v1h-1zM323 221h1v1h-1zM49 222h1v1h-1zM322 222h1v1h-1zM49 223h1v1h-1zM322 223h1v1h-1zM50 224h1v1h-1zM321 224h1v1h-1zM50 225h1v1h-1zM321 225h1v1h-1zM51 226h1v1h-1zM320 226h1v1h-1zM52 227h1v1h-1zM320 227h1v1h-1zM52 228h1v1h-1zM319 228h1v1h-1zM53 229h1v1h-1zM318 229h1v1h-1zM53 230h1v1h-1zM317 230h1v1h-1zM54 231h1v1h-1zM317 231h1v1h-1zM54 232h1v1h-1zM316 232h1v1h-1zM55 233h1v1h-1zM315 233h1v1h-1zM56 234h1v1h-1zM314 234h1v1h-1zM56 235h1v1h-1zM313 235h1v1h-1zM57 236h1v1h-1zM313 236h1v1h-1zM57 237h1v1h-1zM312 237h1v1h-1zM58 238h1v1h-1zM311 238h1v1h-1zM58 239h1v1h-1zM309 239h2v1h-2zM59 240h1v1h-1zM308 240h1v1h-1zM60 241h1v1h-1zM307 241h1v1h-1zM60 242h1v1h-1zM305 242h2v1h-2zM61 243h1v1h-1zM304 243h1v1h-1zM62 244h1v1h-1zM302 244h2v1h-2zM62 245h1v1h-1zM300 245h2v1h-2zM63 246h1v1h-1zM298 246h2v1h-2zM64 247h1v1h-1zM296 247h2v1h-2zM64 248h1v1h-1zM295 248h1v1h-1zM65 249h1v1h-1zM294 249h1v1h-1zM65 250h1v1h-1zM293 250h1v1h-1zM66 251h1v1h-1zM293 251h1v1h-1zM66 252h1v1h-1zM292 252h1v1h-1zM67 253h1v1h-1zM291 253h1v1h-1zM68 254h1v1h-1zM290 254h1v1h-1zM68 255h1v1h-1zM289 255h1v1h-1zM69 256h1v1h-1zM271 256h1v1h-1zM288 256h1v1h-1zM69 257h1v1h-1zM270 257h1v1h-1zM272 257h1v1h-1zM287 257h1v1h-1zM70 258h1v1h-1zM269 258h1v1h-1zM272 258h1v1h-1zM285 258h2v1h-2zM70 259h1v1h-1zM268 259h1v1h-1zM273 259h1v1h-1zM284 259h1v1h-1zM71 260h1v1h-1zM266 260h2v1h-2zM273 260h1v1h-1zM283 260h1v1h-1zM71 261h1v1h-1zM264 261h2v1h-2zM274 261h1v1h-1zM281 261h2v1h-2zM72 262h1v1h-1zM263 262h1v1h-1zM274 262h1v1h-1zM280 262h1v1h-1zM72 263h1v1h-1zM262 263h1v1h-1zM275 263h5v1h-5zM72 264h1v1h-1zM261 264h1v1h-1zM73 265h1v1h-1zM260 265h1v1h-1zM73 266h1v1h-1zM259 266h1v1h-1zM74 267h1v1h-1zM258 267h1v1h-1zM74 268h1v1h-1zM258 268h1v1h-1zM74 269h1v1h-1zM257 269h1v1h-1zM75 270h1v1h-1zM256 270h1v1h-1zM75 271h1v1h-1zM256 271h1v1h-1zM75 272h1v1h-1zM255 272h1v1h-1zM76 273h1v1h-1zM254 273h1v1h-1zM76 274h1v1h-1zM254 274h1v1h-1zM77 275h1v1h-1zM253 275h1v1h-1zM77 276h1v1h-1zM252 276h1v1h-1zM77 277h1v1h-1zM252 277h1v1h-1zM78 278h1v1h-1zM251 278h1v1h-1zM78 279h1v1h-1zM250 279h1v1h-1zM79 280h1v1h-1zM250 280h1v1h-1zM79 281h1v1h-1zM249 281h1v1h-1zM79 282h1v1h-1zM249 282h1v1h-1zM80 283h1v1h-1zM248 283h1v1h-1zM80 284h1v1h-1zM248 284h1v1h-1zM81 285h1v1h-1zM247 285h1v1h-1zM81 286h1v1h-1zM246 286h1v1h-1zM82 287h1v1h-1zM246 287h1v1h-1zM82 288h1v1h-1zM245 288h1v1h-1zM83 289h1v1h-1zM245 289h1v1h-1zM83 290h1v1h-1zM244 290h1v1h-1zM83 291h1v1h-1zM244 291h1v1h-1zM84 292h1v1h-1zM243 292h1v1h-1zM84 293h1v1h-1zM243 293h1v1h-1zM84 294h1v1h-1zM242 294h1v1h-1zM84 295h1v1h-1zM242 295h1v1h-1zM85 296h1v1h-1zM241 296h1v1h-1zM85 297h1v1h-1zM241 297h1v1h-1zM85 298h1v1h-1zM241 298h1v1h-1zM85 299h1v1h-1zM240 299h1v1h-1zM86 300h1v1h-1zM240 300h1v1h-1zM86 301h1v1h-1zM239 301h1v1h-1zM86 302h1v1h-1zM239 302h1v1h-1zM86 303h1v1h-1zM239 303h1v1h-1zM87 304h1v1h-1zM238 304h1v1h-1zM87 305h1v1h-1zM238 305h1v1h-1zM87 306h1v1h-1zM237 306h1v1h-1zM87 307h1v1h-1zM237 307h1v1h-1zM88 308h1v1h-1zM236 308h1v1h-1zM88 309h1v1h-1zM236 309h1v1h-1zM88 310h1v1h-1zM235 310h1v1h-1zM88 311h1v1h-1zM234 311h1v1h-1zM88 312h1v1h-1zM234 312h1v1h-1zM89 313h1v1h-1zM233 313h1v1h-1zM89 314h1v1h-1zM233 314h1v1h-1zM89 315h1v1h-1zM232 315h1v1h-1zM89 316h1v1h-1zM232 316h1v1h-1zM90 317h1v1h-1zM231 317h1v1h-1zM90 318h1v1h-1zM230 318h1v1h-1zM90 319h1v1h-1zM229 319h1v1h-1zM90 320h1v1h-1zM229 320h1v1h-1zM90 321h1v1h-1zM228 321h1v1h-1zM91 322h1v1h-1zM227 322h1v1h-1zM91 323h1v1h-1zM226 323h1v1h-1zM91 324h1v1h-1zM226 324h1v1h-1zM91 325h1v1h-1zM225 325h1v1h-1zM91 326h1v1h-1zM225 326h1v1h-1zM92 327h1v1h-1zM224 327h1v1h-1zM92 328h1v1h-1zM224 328h1v1h-1zM92 329h1v1h-1zM223 329h1v1h-1zM92 330h1v1h-1zM223 330h1v1h-1zM93 331h1v1h-1zM222 331h1v1h-1zM93 332h1v1h-1zM222 332h1v1h-1zM93 333h1v1h-1zM221 333h1v1h-1zM93 334h1v1h-1zM221 334h1v1h-1zM93 335h1v1h-1zM220 335h1v1h-1zM94 336h1v1h-1zM220 336h1v1h-1zM94 337h1v1h-1zM219 337h1v1h-1zM94 338h1v1h-1zM218 338h1v1h-1zM94 339h1v1h-1zM217 339h1v1h-1zM95 340h1v1h-1zM217 340h1v1h-1zM95 341h1v1h-1zM216 341h1v1h-1zM95 342h1v1h-1zM215 342h1v1h-1zM96 343h1v1h-1zM214 343h1v1h-1zM96 344h1v1h-1zM214 344h1v1h-1zM97 345h1v1h-1zM213 345h1v1h-1zM97 346h1v1h-1zM212 346h1v1h-1zM98 347h1v1h-1zM212 347h1v1h-1zM98 348h1v1h-1zM211 348h1v1h-1zM99 349h1v1h-1zM163 349h1v1h-1zM210 349h1v1h-1zM99 350h1v1h-1zM161 350h2v1h-2zM164 350h1v1h-1zM209 350h1v1h-1zM100 351h1v1h-1zM160 351h1v1h-1zM165 351h1v1h-1zM209 351h1v1h-1zM100 352h1v1h-1zM159 352h1v1h-1zM166 352h1v1h-1zM208 352h1v1h-1zM101 353h1v1h-1zM158 353h1v1h-1zM167 353h1v1h-1zM207 353h1v1h-1zM101 354h1v1h-1zM157 354h1v1h-1zM168 354h1v1h-1zM205 354h2v1h-2zM102 355h1v1h-1zM157 355h1v1h-1zM169 355h2v1h-2zM204 355h1v1h-1zM102 356h1v1h-1zM156 356h1v1h-1zM171 356h1v1h-1zM202 356h2v1h-2zM103 357h1v1h-1zM155 357h1v1h-1zM172 357h2v1h-2zM200 357h2v1h-2zM103 358h1v1h-1zM154 358h1v1h-1zM174 358h6v1h-6zM198 358h2v1h-2zM104 359h1v1h-1zM153 359h1v1h-1zM180 359h2v1h-2zM196 359h2v1h-2zM104 360h1v1h-1zM152 360h1v1h-1zM182 360h2v1h-2zM194 360h2v1h-2zM105 361h1v1h-1zM151 361h1v1h-1zM184 361h1v1h-1zM192 361h2v1h-2zM105 362h1v1h-1zM150 362h1v1h-1zM185 362h2v1h-2zM189 362h3v1h-3zM106 363h1v1h-1zM150 363h1v1h-1zM187 363h2v1h-2zM106 364h1v1h-1zM149 364h1v1h-1zM107 365h1v1h-1zM148 365h1v1h-1zM108 366h1v1h-1zM148 366h1v1h-1zM109 367h1v1h-1zM147 367h1v1h-1zM109 368h1v1h-1zM146 368h1v1h-1zM110 369h1v1h-1zM145 369h1v1h-1zM111 370h1v1h-1zM144 370h1v1h-1zM112 371h1v1h-1zM143 371h1v1h-1zM113 372h2v1h-2zM141 372h2v1h-2zM115 373h6v1h-6zM140 373h1v1h-1zM121 374h19v1h-19z" fill="#000"/>
<path d="M3 197h1v27h-1zM2 198h3v25h-3zM7 188h1v20h-1zM6 200h3v5h-3zM11 191h1v17h-1zM10 192h3v8h-3zM15 186h1v7h-1zM14 189h3v4h-3zM19 191h1v4h-1zM18 191h3v2h-3zM23 189h1v7h-1zM22 190h3v2h-3zM27 175h1v26h-1zM26 184h3v6h-3zM31 170h1v14h-1zM30 173h3v11h-3zM35 171h1v17h-1zM34 173h3v13h-3zM39 178h1v8h-1zM38 178h3v8h-3zM43 191h1v17h-1zM42 191h3v16h-3zM47 202h1v33h-1zM46 206h3v14h-3zM51 214h1v20h-1zM50 218h3v14h-3zM55 224h1v26h-1zM54 230h3v19h-3zM59 241h1v18h-1zM58 241h3v7h-3zM63 242h1v5h-1zM62 243h3v3h-3zM67 232h1v23h-1zM66 242h3v7h-3zM71 244h1v13h-1zM70 248h3v6h-3zM75 251h1v17h-1zM74 253h3v14h-3zM79 262h1v17h-1zM78 266h3v13h-3zM83 279h1v9h-1zM82 279h3v5h-3zM87 276h1v48h-1zM86 283h3v26h-3zM91 304h1v31h-1zM90 308h3v23h-3zM95 321h1v27h-1zM94 330h3v9h-3zM99 331h1v14h-1zM98 338h3v2h-3zM103 326h1v10h-1zM102 328h3v2h-3zM107 319h1v23h-1zM106 328h3v1h-3zM111 319h1v26h-1zM110 328h3v9h-3zM115 312h1v36h-1zM114 327h3v8h-3zM119 316h1v18h-1zM118 327h3v5h-3zM123 329h1v10h-1zM122 333h3v2h-3zM127 330h1v37h-1zM126 335h3v1h-3zM131 325h1v15h-1zM130 332h3v4h-3zM135 328h1v20h-1zM134 332h3v5h-3zM139 321h1v22h-1zM138 322h3v15h-3zM143 324h1v8h-1zM142 328h3v3h-3zM147 325h1v11h-1zM146 327h3v1h-3zM151 304h1v31h-1zM150 311h3v16h-3zM155 300h1v11h-1zM154 302h3v9h-3zM159 295h1v14h-1zM158 302h3v4h-3zM163 299h1v15h-1zM162 301h3v5h-3zM167 286h1v8h-1zM166 286h3v6h-3zM171 283h1v8h-1zM170 286h3v1h-3zM175 267h1v25h-1zM174 268h3v19h-3zM179 265h1v10h-1zM178 269h3v1h-3zM183 256h1v19h-1zM182 262h3v8h-3zM187 244h1v21h-1zM186 245h3v18h-3zM191 250h1v14h-1zM190 255h3v4h-3zM195 234h1v46h-1zM194 255h3v4h-3zM199 243h1v59h-1zM198 251h3v8h-3zM203 231h1v36h-1zM202 238h3v13h-3zM207 220h1v34h-1zM206 224h3v15h-3zM211 223h1v14h-1zM210 224h3v7h-3zM215 228h1v4h-1zM214 229h3v1h-3zM219 216h1v20h-1zM218 217h3v13h-3zM223 203h1v23h-1zM222 207h3v10h-3zM227 193h1v18h-1zM226 200h3v8h-3zM231 187h1v18h-1zM230 196h3v4h-3zM235 193h1v9h-1zM234 196h3v1h-3zM239 200h1v7h-1zM238 200h3v7h-3zM243 199h1v11h-1zM242 200h3v5h-3zM247 187h1v32h-1zM246 205h3v13h-3zM251 199h1v21h-1zM250 200h3v18h-3zM255 190h1v17h-1zM254 199h3v3h-3zM259 194h1v11h-1zM258 198h3v4h-3zM263 175h1v8h-1zM262 177h3v4h-3zM267 169h1v13h-1zM266 172h3v9h-3zM271 162h1v15h-1zM270 173h3v2h-3zM275 88h1v87h-1zM274 101h3v73h-3zM279 92h1v31h-1zM278 101h3v14h-3zM283 111h1v21h-1zM282 114h3v17h-3zM287 133h1v6h-1zM286 135h3v3h-3zM291 130h1v19h-1zM290 135h3v7h-3zM295 110h1v33h-1zM294 117h3v25h-3zM299 108h1v18h-1zM298 108h3v9h-3zM303 96h1v18h-1zM302 104h3v5h-3zM307 102h1v9h-1zM306 104h3v2h-3zM311 111h1v6h-1zM310 111h3v6h-3zM315 105h1v8h-1zM314 107h3v5h-3zM319 97h1v15h-1zM318 99h3v9h-3zM323 95h1v8h-1zM322 99h3v1h-3zM327 96h1v8h-1zM326 98h3v2h-3zM331 97h1v11h-1zM330 98h3v2h-3zM335 102h1v5h-1zM334 104h3v2h-3zM339 104h1v13h-1zM338 105h3v4h-3zM343 106h1v16h-1zM342 109h3v1h-3zM347 107h1v21h-1zM346 108h3v16h-3zM351 118h1v19h-1zM350 123h3v11h-3zM355 131h1v9h-1zM354 133h3v1h-3zM359 134h1v6h-1zM358 135h3v4h-3zM363 129h1v12h-1zM362 132h3v7h-3zM367 114h1v20h-1zM366 115h3v15h-3zM371 110h1v15h-1zM370 115h3v4h-3zM375 114h1v9h-1zM374 117h3v2h-3zM379 111h1v8h-1zM378 114h3v3h-3zM383 101h1v10h-1zM382 102h3v7h-3zM387 97h1v12h-1zM386 98h3v11h-3zM391 97h1v23h-1zM390 98h3v8h-3zM395 90h1v22h-1zM394 98h3v9h-3zM399 94h1v21h-1zM398 97h3v18h-3zM403 110h1v10h-1zM402 112h3v3h-3zM407 113h1v6h-1zM406 114h3v5h-3zM411 115h1v4h-1zM410 117h3v1h-3zM415 109h1v11h-1zM414 112h3v7h-3zM419 111h1v12h-1zM418 112h3v6h-3zM423 108h1v16h-1zM422 110h3v8h-3zM427 106h1v8h-1zM426 110h3v1h-3zM431 112h1v5h-1zM430 113h3v3h-3zM435 111h1v9h-1zM434 114h3v4h-3zM439 107h1v13h-1zM438 109h3v9h-3zM443 102h1v8h-1zM442 105h3v5h-3zM447 99h1v13h-1zM446 105h3v1h-3zM451 103h1v13h-1zM450 105h3v10h-3zM455 115h1v5h-1zM454 116h3v1h-3zM459 115h1v7h-1zM458 116h3v1h-3zM463 112h1v12h-1zM462 116h3v4h-3zM467 112h1v14h-1zM466 114h3v6h-3zM471 110h1v11h-1zM470 112h3v8h-3zM475 109h1v11h-1zM474 110h3v9h-3zM479 117h1v3h-1zM478 118h3v1h-3zM483 116h1v5h-1zM482 118h3v1h-3zM487 110h1v15h-1zM486 112h3v7h-3zM491 105h1v12h-1zM490 113h3v2h-3zM495 109h1v8h-1zM494 111h3v4h-3zM499 108h1v7h-1zM498 111h3v3h-3zM503 104h1v4h-1zM502 104h3v3h-3zM507 103h1v6h-1zM506 104h3v3h-3zM511 86h1v19h-1zM510 95h3v10h-3zM515 91h1v17h-1zM514 94h3v12h-3zM519 100h1v14h-1zM518 105h3v2h-3zM523 99h1v10h-1zM522 105h3v2h-3zM527 96h1v2h-1zM526 96h3v2h-3zM531 92h1v7h-1zM530 95h3v3h-3zM535 92h1v12h-1zM534 95h3v2h-3zM539 91h1v8h-1zM538 93h3v2h-3zM543 85h1v10h-1zM542 86h3v7h-3zM547 83h1v6h-1zM546 85h3v2h-3zM551 77h1v4h-1zM550 79h3v1h-3zM555 78h1v14h-1zM554 79h3v13h-3zM559 81h1v14h-1zM558 91h3v2h-3zM563 89h1v9h-1zM562 91h3v2h-3zM567 86h1v11h-1zM566 87h3v6h-3zM571 85h1v5h-1zM570 86h3v2h-3zM575 85h1v4h-1zM574 87h3v1h-3zM579 85h1v5h-1zM578 86h3v2h-3zM583 84h1v8h-1zM582 86h3v4h-3zM587 86h1v6h-1zM586 88h3v2h-3zM591 85h1v10h-1zM590 88h3v5h-3zM595 91h1v4h-1zM594 91h3v2h-3zM599 91h1v3h-1zM598 91h3v3h-3zM603 89h1v8h-1zM602 90h3v4h-3zM607 82h1v10h-1zM606 86h3v4h-3zM611 84h1v7h-1zM610 86h3v1h-3zM615 78h1v9h-1zM614 81h3v5h-3zM619 79h1v4h-1zM618 80h3v2h-3zM623 85h1v3h-1zM622 85h3v3h-3zM627 85h1v12h-1zM626 85h3v10h-3zM631 76h1v23h-1zM630 78h3v17h-3zM635 67h1v16h-1zM634 68h3v10h-3zM639 67h1v27h-1zM638 68h3v19h-3zM643 82h1v8h-1zM642 86h3v2h-3zM647 73h1v5h-1zM646 74h3v3h-3zM651 71h1v5h-1zM650 73h3v1h-3zM655 69h1v15h-1zM654 73h3v1h-3zM659 70h1v7h-1zM658 72h3v4h-3zM663 71h1v9h-1zM662 72h3v5h-3zM667 74h1v7h-1zM666 75h3v2h-3zM671 83h1v3h-1zM670 83h3v2h-3zM675 80h1v6h-1zM674 83h3v1h-3zM679 77h1v14h-1zM678 83h3v1h-3zM683 80h1v14h-1zM682 83h3v8h-3zM687 84h1v8h-1zM686 87h3v4h-3zM691 85h1v5h-1zM690 87h3v3h-3zM695 88h1v4h-1zM694 89h3v2h-3zM699 84h1v8h-1zM698 89h3v2h-3zM703 84h1v16h-1zM702 90h3v9h-3zM707 92h1v7h-1zM706 94h3v4h-3zM711 92h1v5h-1zM710 94h3v1h-3zM715 94h1v12h-1zM714 94h3v11h-3zM719 98h1v4h-1zM718 99h3v2h-3zM723 96h1v6h-1zM722 96h3v5h-3zM727 85h1v17h-1zM726 90h3v7h-3zM731 89h1v11h-1zM730 90h3v6h-3zM735 89h1v7h-1zM734 89h3v6h-3zM739 89h1v3h-1zM738 90h3v1h-3zM743 90h1v4h-1zM742 90h3v3h-3zM747 91h1v8h-1zM746 91h3v5h-3zM751 89h1v19h-1zM750 95h3v2h-3zM755 90h1v9h-1zM754 95h3v3h-3zM759 89h1v10h-1zM758 92h3v4h-3zM763 91h1v6h-1zM762 93h3v1h-3zM767 92h1v4h-1zM766 93h3v2h-3zM771 91h1v5h-1zM770 92h3v3h-3zM775 90h1v9h-1zM774 93h3v1h-3zM779 93h1v10h-1zM778 94h3v2h-3zM783 88h1v11h-1zM782 89h3v6h-3zM787 86h1v5h-1zM786 87h3v4h-3zM791 84h1v3h-1zM790 85h3v1h-3zM795 81h1v5h-1zM794 83h3v3h-3zM799 66h1v18h-1zM798 73h3v10h-3zM803 70h1v8h-1zM802 74h3v1h-3zM807 74h1v12h-1zM806 74h3v9h-3zM811 81h1v10h-1zM810 82h3v2h-3zM815 82h1v4h-1zM814 82h3v3h-3zM819 81h1v5h-1zM818 83h3v1h-3zM823 78h1v12h-1zM822 81h3v4h-3zM827 78h1v24h-1zM826 81h3v17h-3zM831 84h1v18h-1zM830 90h3v8h-3zM835 88h1v5h-1zM834 88h3v3h-3zM839 88h1v4h-1zM838 88h3v3h-3zM843 88h1v7h-1zM842 88h3v5h-3zM847 91h1v21h-1zM846 92h3v17h-3zM851 106h1v24h-1zM850 107h3v6h-3zM855 107h1v15h-1zM854 111h3v6h-3zM859 111h1v7h-1zM858 111h3v6h-3zM863 100h1v4h-1zM862 100h3v3h-3zM867 102h1v9h-1zM866 102h3v5h-3zM871 94h1v15h-1zM870 97h3v11h-3zM875 88h1v10h-1zM874 94h3v4h-3zM879 89h1v12h-1zM878 93h3v6h-3zM883 98h1v6h-1zM882 99h3v3h-3zM887 99h1v5h-1zM886 100h3v2h-3zM891 99h1v7h-1zM890 100h3v2h-3zM895 83h1v19h-1zM894 84h3v16h-3zM899 80h1v9h-1zM898 82h3v3h-3zM903 74h1v12h-1zM902 74h3v7h-3zM907 70h1v5h-1zM906 71h3v3h-3zM911 75h1v2h-1zM910 76h3v1h-3zM915 72h1v5h-1zM914 73h3v3h-3zM919 46h1v28h-1zM918 49h3v25h-3zM923 47h1v10h-1zM922 49h3v7h-3zM927 48h1v13h-1zM926 50h3v5h-3zM931 47h1v8h-1zM930 48h3v3h-3zM935 49h1v3h-1zM934 49h3v3h-3zM939 42h1v10h-1zM938 43h3v9h-3zM943 26h1v21h-1zM942 37h3v7h-3zM947 34h1v6h-1zM946 36h3v1h-3zM951 31h1v8h-1zM950 33h3v5h-3zM955 32h1v5h-1zM954 33h3v2h-3zM959 36h1v4h-1zM958 37h3v2h-3zM963 38h1v7h-1zM962 38h3v3h-3zM967 21h1v22h-1zM966 33h3v8h-3zM971 27h1v11h-1zM970 31h3v2h-3zM975 29h1v16h-1zM974 31h3v8h-3zM979 38h1v10h-1zM978 38h3v2h-3zM983 62h1v8h-1zM982 64h3v4h-3zM987 66h1v2h-1zM986 66h3v2h-3z" fill="#000"/>
<path d="M7 201h1v3h-1zM11 193h1v6h-1zM15 190h1v2h-1zM27 185h1v4h-1zM31 174h1v9h-1zM39 179h1v6h-1zM59 242h1v5h-1zM115 328h1v6h-1zM131 333h1v2h-1zM139 323h1v13h-1zM143 329h1v1h-1zM151 312h1v14h-1zM155 303h1v7h-1zM163 302h1v3h-1zM167 287h1v4h-1zM175 269h1v17h-1zM183 263h1v6h-1zM187 246h1v16h-1zM191 256h1v2h-1zM199 252h1v6h-1zM203 239h1v11h-1zM207 225h1v13h-1zM219 218h1v11h-1zM223 208h1v8h-1zM227 201h1v6h-1zM231 197h1v2h-1zM239 201h1v5h-1zM251 201h1v16h-1zM259 199h1v2h-1zM267 173h1v7h-1zM275 102h1v71h-1zM287 136h1v1h-1zM295 118h1v23h-1zM299 109h1v7h-1zM303 105h1v3h-1zM311 112h1v4h-1zM315 108h1v3h-1zM319 100h1v7h-1zM363 133h1v5h-1zM367 116h1v13h-1zM379 115h1v1h-1zM387 99h1v9h-1zM395 99h1v7h-1zM403 113h1v1h-1zM415 113h1v5h-1zM423 111h1v6h-1zM439 110h1v7h-1zM443 106h1v3h-1zM467 115h1v4h-1zM475 111h1v7h-1zM487 113h1v5h-1zM495 112h1v2h-1zM507 105h1v1h-1zM511 96h1v8h-1zM543 87h1v5h-1zM567 88h1v4h-1zM603 91h1v2h-1zM607 87h1v2h-1zM615 82h1v3h-1zM623 86h1v1h-1zM631 79h1v15h-1zM635 69h1v8h-1zM647 75h1v1h-1zM659 73h1v2h-1zM687 88h1v2h-1zM707 95h1v2h-1zM723 97h1v3h-1zM727 91h1v5h-1zM735 90h1v4h-1zM755 96h1v1h-1zM759 93h1v2h-1zM771 93h1v1h-1zM783 90h1v4h-1zM787 88h1v2h-1zM795 84h1v1h-1zM799 74h1v8h-1zM823 82h1v2h-1zM831 91h1v6h-1zM835 89h1v1h-1zM859 112h1v4h-1zM871 98h1v9h-1zM875 95h1v2h-1zM895 85h1v14h-1zM899 83h1v1h-1zM903 75h1v5h-1zM907 72h1v1h-1zM915 74h1v1h-1zM919 50h1v23h-1zM927 51h1v3h-1zM931 49h1v1h-1zM939 44h1v7h-1zM943 38h1v5h-1zM951 34h1v3h-1zM967 34h1v6h-1z" fill="#fff"/>
<path d="M3 466h1v33h-1zM7 466h1v33h-1zM11 466h1v32h-1zM15 466h1v29h-1zM19 466h1v28h-1zM23 466h1v26h-1zM27 466h1v23h-1zM31 466h1v20h-1zM35 466h1v18h-1zM39 466h1v15h-1zM43 466h1v18h-1zM47 466h1v23h-1zM51 466h1v29h-1zM55 466h1v34h-1zM59 466h1v39h-1zM63 466h1v41h-1zM67 466h1v43h-1zM71 466h1v45h-1zM75 466h1v50h-1zM79 466h1v55h-1zM83 466h1v60h-1zM87 466h1v67h-1zM91 466h1v76h-1zM95 466h1v82h-1zM99 466h1v87h-1zM103 466h1v88h-1zM107 466h1v88h-1zM111 466h1v87h-1zM115 466h1v85h-1zM119 466h1v82h-1zM123 466h1v80h-1zM127 466h1v77h-1zM131 466h1v76h-1zM135 466h1v73h-1zM139 466h1v69h-1zM143 466h1v64h-1zM147 466h1v59h-1zM151 466h1v52h-1zM155 466h1v45h-1zM159 466h1v38h-1zM163 466h1v30h-1zM167 466h1v23h-1zM171 466h1v15h-1zM175 466h1v11h-1zM179 465h1v2h-1zM183 464h1v3h-1zM187 457h1v10h-1zM191 452h1v15h-1zM195 449h1v18h-1zM199 446h1v21h-1zM203 441h1v26h-1zM207 436h1v31h-1zM211 433h1v34h-1zM215 430h1v37h-1zM219 427h1v40h-1zM223 422h1v45h-1zM227 417h1v50h-1zM231 415h1v52h-1zM235 412h1v55h-1zM239 412h1v55h-1zM243 414h1v53h-1zM247 417h1v50h-1zM251 418h1v49h-1zM255 420h1v47h-1zM259 420h1v47h-1zM263 418h1v49h-1zM267 417h1v50h-1zM271 415h1v52h-1zM275 401h1v66h-1zM279 393h1v74h-1zM283 391h1v76h-1zM287 391h1v76h-1zM291 393h1v74h-1zM295 391h1v76h-1zM299 389h1v78h-1zM303 387h1v80h-1zM307 387h1v80h-1zM311 389h1v78h-1zM315 390h1v77h-1zM319 391h1v76h-1zM323 393h1v74h-1zM327 395h1v72h-1zM331 397h1v70h-1zM335 401h1v66h-1zM339 405h1v62h-1zM343 409h1v58h-1zM347 416h1v51h-1zM351 423h1v44h-1zM355 430h1v37h-1zM359 436h1v31h-1zM363 439h1v28h-1zM367 439h1v28h-1zM371 441h1v26h-1zM375 443h1v24h-1zM379 443h1v24h-1zM383 443h1v24h-1zM387 440h1v27h-1zM391 441h1v26h-1zM395 441h1v26h-1zM399 442h1v25h-1zM403 445h1v22h-1zM407 448h1v19h-1zM411 449h1v18h-1zM415 451h1v16h-1zM419 452h1v15h-1zM423 452h1v15h-1zM427 453h1v14h-1zM431 454h1v13h-1zM435 456h1v11h-1zM439 456h1v11h-1zM443 456h1v11h-1zM447 455h1v12h-1zM451 456h1v11h-1zM455 458h1v9h-1zM459 460h1v7h-1zM463 462h1v5h-1zM467 462h1v5h-1zM471 462h1v5h-1zM475 463h1v4h-1zM479 464h1v3h-1zM483 464h1v3h-1zM487 464h1v3h-1zM491 463h1v4h-1zM495 463h1v4h-1zM499 463h1v4h-1zM503 463h1v4h-1zM507 461h1v6h-1zM511 458h1v9h-1zM515 458h1v9h-1zM519 458h1v9h-1zM523 458h1v9h-1zM527 457h1v10h-1zM531 456h1v11h-1zM535 455h1v12h-1zM539 454h1v13h-1zM543 453h1v14h-1zM547 450h1v17h-1zM551 448h1v19h-1zM555 449h1v18h-1zM559 450h1v17h-1zM563 451h1v16h-1zM567 451h1v16h-1zM571 451h1v16h-1zM575 451h1v16h-1zM579 451h1v16h-1zM583 452h1v15h-1zM587 453h1v14h-1zM591 454h1v13h-1zM595 455h1v12h-1zM599 457h1v10h-1zM603 457h1v10h-1zM607 457h1v10h-1zM611 457h1v10h-1zM615 456h1v11h-1zM619 455h1v12h-1zM623 456h1v11h-1zM627 458h1v9h-1zM631 457h1v10h-1zM635 454h1v13h-1zM639 456h1v11h-1zM643 457h1v10h-1zM647 457h1v10h-1zM651 456h1v11h-1zM655 456h1v11h-1zM659 455h1v12h-1zM663 454h1v13h-1zM667 455h1v12h-1zM671 456h1v11h-1zM675 458h1v9h-1zM679 459h1v8h-1zM683 461h1v6h-1zM687 463h1v4h-1zM691 464h1v3h-1zM695 465h1v2h-1zM703 466h1v3h-1zM707 466h1v3h-1zM711 466h1v5h-1zM715 466h1v8h-1zM719 466h1v9h-1zM723 466h1v9h-1zM727 466h1v7h-1zM731 466h1v6h-1zM735 466h1v5h-1zM739 466h1v5h-1zM743 466h1v5h-1zM747 466h1v5h-1zM751 466h1v5h-1zM755 466h1v5h-1zM759 466h1v5h-1zM763 466h1v4h-1zM767 466h1v4h-1zM771 466h1v3h-1zM775 466h1v3h-1zM779 466h1v3h-1zM783 466h1v3h-1zM787 466h1v2h-1zM795 464h1v3h-1zM799 461h1v6h-1zM803 460h1v7h-1zM807 460h1v7h-1zM811 460h1v7h-1zM815 460h1v7h-1zM819 460h1v7h-1zM823 461h1v6h-1zM827 463h1v4h-1zM831 465h1v2h-1zM835 465h1v2h-1zM839 465h1v2h-1zM847 466h1v3h-1zM851 466h1v8h-1zM855 466h1v10h-1zM859 466h1v13h-1zM863 466h1v13h-1zM867 466h1v12h-1zM871 466h1v9h-1zM875 466h1v8h-1zM879 466h1v8h-1zM883 466h1v7h-1zM887 466h1v7h-1zM891 466h1v7h-1zM895 466h1v4h-1zM903 463h1v4h-1zM907 460h1v7h-1zM911 457h1v10h-1zM915 456h1v11h-1zM919 450h1v17h-1zM923 447h1v20h-1zM927 444h1v23h-1zM931 441h1v26h-1zM935 440h1v27h-1zM939 438h1v29h-1zM943 436h1v31h-1zM947 434h1v33h-1zM951 432h1v35h-1zM955 431h1v36h-1zM959 432h1v35h-1zM963 433h1v34h-1zM967 434h1v33h-1zM971 434h1v33h-1zM975 435h1v32h-1zM979 438h1v29h-1zM983 445h1v22h-1zM987 450h1v17h-1z" fill="#00008b"/>
<path d="M309 390h20v1h-20zM307 391h2v1h-2zM329 391h4v1h-4zM305 392h2v1h-2zM333 392h3v1h-3zM304 393h1v1h-1zM336 393h2v1h-2zM303 394h1v1h-1zM338 394h2v1h-2zM301 395h2v1h-2zM340 395h2v1h-2zM300 396h1v1h-1zM342 396h2v1h-2zM299 397h1v1h-1zM344 397h1v1h-1zM297 398h2v1h-2zM345 398h2v1h-2zM296 399h1v1h-1zM347 399h1v1h-1zM295 400h1v1h-1zM348 400h1v1h-1zM293 401h2v1h-2zM349 401h1v1h-1zM292 402h1v1h-1zM350 402h1v1h-1zM291 403h1v1h-1zM351 403h1v1h-1zM289 404h2v1h-2zM352 404h1v1h-1zM288 405h1v1h-1zM353 405h1v1h-1zM287 406h1v1h-1zM354 406h1v1h-1zM285 407h2v1h-2zM355 407h1v1h-1zM284 408h1v1h-1zM356 408h1v1h-1zM283 409h1v1h-1zM357 409h1v1h-1zM281 410h2v1h-2zM358 410h1v1h-1zM280 411h1v1h-1zM359 411h1v1h-1zM278 412h2v1h-2zM360 412h1v1h-1zM276 413h2v1h-2zM361 413h1v1h-1zM273 414h3v1h-3zM361 414h1v1h-1zM269 415h4v1h-4zM362 415h1v1h-1zM253 416h16v1h-16zM363 416h1v1h-1zM249 417h4v1h-4zM364 417h1v1h-1zM245 418h4v1h-4zM365 418h1v1h-1zM243 419h2v1h-2zM366 419h1v1h-1zM241 420h2v1h-2zM367 420h1v1h-1zM240 421h1v1h-1zM368 421h1v1h-1zM239 422h1v1h-1zM369 422h1v1h-1zM237 423h2v1h-2zM369 423h1v1h-1zM236 424h1v1h-1zM370 424h1v1h-1zM235 425h1v1h-1zM371 425h1v1h-1zM234 426h1v1h-1zM372 426h1v1h-1zM233 427h1v1h-1zM373 427h1v1h-1zM232 428h1v1h-1zM374 428h1v1h-1zM231 429h1v1h-1zM375 429h1v1h-1zM230 430h1v1h-1zM376 430h1v1h-1zM229 431h1v1h-1zM377 431h1v1h-1zM228 432h1v1h-1zM378 432h1v1h-1zM227 433h1v1h-1zM379 433h1v1h-1zM969 433h12v1h-12zM225 434h2v1h-2zM380 434h1v1h-1zM961 434h8v1h-8zM981 434h4v1h-4zM224 435h1v1h-1zM381 435h2v1h-2zM958 435h3v1h-3zM985 435h2v1h-2zM223 436h1v1h-1zM383 436h1v1h-1zM956 436h2v1h-2zM222 437h1v1h-1zM384 437h2v1h-2zM954 437h2v1h-2zM221 438h1v1h-1zM386 438h3v1h-3zM952 438h2v1h-2zM220 439h1v1h-1zM389 439h4v1h-4zM950 439h2v1h-2zM219 440h1v1h-1zM393 440h4v1h-4zM948 440h2v1h-2zM218 441h1v1h-1zM397 441h8v1h-8zM946 441h2v1h-2zM217 442h1v1h-1zM405 442h8v1h-8zM944 442h2v1h-2zM216 443h1v1h-1zM413 443h4v1h-4zM943 443h1v1h-1zM215 444h1v1h-1zM417 444h3v1h-3zM941 444h2v1h-2zM214 445h1v1h-1zM420 445h2v1h-2zM940 445h1v1h-1zM213 446h1v1h-1zM422 446h3v1h-3zM939 446h1v1h-1zM212 447h1v1h-1zM425 447h3v1h-3zM937 447h2v1h-2zM211 448h1v1h-1zM428 448h2v1h-2zM936 448h1v1h-1zM210 449h1v1h-1zM430 449h3v1h-3zM935 449h1v1h-1zM209 450h1v1h-1zM433 450h3v1h-3zM569 450h16v1h-16zM934 450h1v1h-1zM209 451h1v1h-1zM436 451h2v1h-2zM561 451h8v1h-8zM585 451h4v1h-4zM933 451h1v1h-1zM208 452h1v1h-1zM438 452h3v1h-3zM557 452h4v1h-4zM589 452h8v1h-8zM932 452h1v1h-1zM207 453h1v1h-1zM441 453h8v1h-8zM553 453h4v1h-4zM597 453h4v1h-4zM931 453h1v1h-1zM206 454h1v1h-1zM449 454h8v1h-8zM545 454h8v1h-8zM601 454h8v1h-8zM929 454h2v1h-2zM206 455h1v1h-1zM457 455h4v1h-4zM541 455h4v1h-4zM609 455h12v1h-12zM649 455h24v1h-24zM928 455h1v1h-1zM205 456h1v1h-1zM461 456h4v1h-4zM537 456h4v1h-4zM621 456h28v1h-28zM673 456h12v1h-12zM927 456h1v1h-1zM204 457h1v1h-1zM465 457h4v1h-4zM533 457h4v1h-4zM685 457h4v1h-4zM926 457h1v1h-1zM204 458h1v1h-1zM469 458h4v1h-4zM530 458h3v1h-3zM689 458h4v1h-4zM925 458h1v1h-1zM203 459h1v1h-1zM473 459h4v1h-4zM528 459h2v1h-2zM693 459h4v1h-4zM924 459h1v1h-1zM202 460h1v1h-1zM477 460h4v1h-4zM521 460h7v1h-7zM697 460h3v1h-3zM923 460h1v1h-1zM201 461h1v1h-1zM481 461h8v1h-8zM517 461h4v1h-4zM700 461h2v1h-2zM821 461h20v1h-20zM921 461h2v1h-2zM201 462h1v1h-1zM489 462h28v1h-28zM702 462h3v1h-3zM813 462h8v1h-8zM841 462h4v1h-4zM920 462h1v1h-1zM200 463h1v1h-1zM705 463h3v1h-3zM809 463h4v1h-4zM845 463h3v1h-3zM918 463h2v1h-2zM199 464h1v1h-1zM708 464h2v1h-2zM805 464h4v1h-4zM848 464h2v1h-2zM916 464h2v1h-2zM198 465h1v1h-1zM710 465h3v1h-3zM802 465h3v1h-3zM850 465h3v1h-3zM914 465h2v1h-2zM198 466h1v1h-1zM713 466h3v1h-3zM800 466h2v1h-2zM853 466h3v1h-3zM912 466h2v1h-2zM197 467h1v1h-1zM716 467h2v1h-2zM797 467h3v1h-3zM856 467h2v1h-2zM910 467h2v1h-2zM196 468h1v1h-1zM718 468h3v1h-3zM785 468h12v1h-12zM858 468h2v1h-2zM908 468h2v1h-2zM196 469h1v1h-1zM721 469h4v1h-4zM773 469h12v1h-12zM860 469h2v1h-2zM906 469h2v1h-2zM195 470h1v1h-1zM725 470h4v1h-4zM761 470h12v1h-12zM862 470h2v1h-2zM904 470h2v1h-2zM194 471h1v1h-1zM729 471h4v1h-4zM753 471h8v1h-8zM864 471h2v1h-2zM901 471h3v1h-3zM194 472h1v1h-1zM733 472h20v1h-20zM866 472h3v1h-3zM898 472h3v1h-3zM193 473h1v1h-1zM869 473h4v1h-4zM896 473h2v1h-2zM192 474h1v1h-1zM873 474h4v1h-4zM893 474h3v1h-3zM192 475h1v1h-1zM877 475h4v1h-4zM889 475h4v1h-4zM191 476h1v1h-1zM881 476h8v1h-8zM190 477h1v1h-1zM190 478h1v1h-1zM189 479h1v1h-1zM189 480h1v1h-1zM188 481h1v1h-1zM188 482h1v1h-1zM187 483h1v1h-1zM187 484h1v1h-1zM186 485h1v1h-1zM186 486h1v1h-1zM45 487h12v1h-12zM185 487h1v1h-1zM3 488h1v1h-1zM42 488h3v1h-3zM57 488h3v1h-3zM185 488h1v1h-1zM4 489h2v1h-2zM40 489h2v1h-2zM60 489h2v1h-2zM184 489h1v1h-1zM6 490h2v1h-2zM37 490h3v1h-3zM62 490h2v1h-2zM184 490h1v1h-1zM8 491h2v1h-2zM34 491h3v1h-3zM64 491h1v1h-1zM183 491h1v1h-1zM10 492h3v1h-3zM32 492h2v1h-2zM65 492h2v1h-2zM182 492h1v1h-1zM13 493h4v1h-4zM29 493h3v1h-3zM67 493h1v1h-1zM182 493h1v1h-1zM17 494h4v1h-4zM25 494h4v1h-4zM68 494h1v1h-1zM181 494h1v1h-1zM21 495h4v1h-4zM69 495h2v1h-2zM181 495h1v1h-1zM71 496h1v1h-1zM180 496h1v1h-1zM72 497h1v1h-1zM180 497h1v1h-1zM73 498h2v1h-2zM179 498h1v1h-1zM75 499h1v1h-1zM178 499h1v1h-1zM76 500h1v1h-1zM178 500h1v1h-1zM77 501h1v1h-1zM177 501h1v1h-1zM78 502h1v1h-1zM176 502h1v1h-1zM79 503h1v1h-1zM176 503h1v1h-1zM80 504h1v1h-1zM175 504h1v1h-1zM81 505h1v1h-1zM174 505h1v1h-1zM82 506h1v1h-1zM174 506h1v1h-1zM83 507h1v1h-1zM173 507h1v1h-1zM84 508h1v1h-1zM172 508h1v1h-1zM85 509h1v1h-1zM172 509h1v1h-1zM85 510h1v1h-1zM171 510h1v1h-1zM86 511h1v1h-1zM170 511h1v1h-1zM87 512h1v1h-1zM170 512h1v1h-1zM88 513h1v1h-1zM169 513h1v1h-1zM89 514h1v1h-1zM168 514h1v1h-1zM89 515h1v1h-1zM168 515h1v1h-1zM90 516h1v1h-1zM167 516h1v1h-1zM91 517h1v1h-1zM166 517h1v1h-1zM92 518h1v1h-1zM165 518h1v1h-1zM93 519h1v1h-1zM165 519h1v1h-1zM93 520h1v1h-1zM164 520h1v1h-1zM94 521h1v1h-1zM163 521h1v1h-1zM95 522h1v1h-1zM162 522h1v1h-1zM96 523h1v1h-1zM161 523h1v1h-1zM97 524h1v1h-1zM161 524h1v1h-1zM97 525h1v1h-1zM160 525h1v1h-1zM98 526h1v1h-1zM159 526h1v1h-1zM99 527h1v1h-1zM158 527h1v1h-1zM100 528h1v1h-1zM157 528h1v1h-1zM101 529h1v1h-1zM157 529h1v1h-1zM101 530h1v1h-1zM156 530h1v1h-1zM102 531h1v1h-1zM155 531h1v1h-1zM103 532h1v1h-1zM154 532h1v1h-1zM104 533h1v1h-1zM153 533h1v1h-1zM105 534h1v1h-1zM152 534h1v1h-1zM105 535h1v1h-1zM151 535h1v1h-1zM106 536h1v1h-1zM150 536h1v1h-1zM107 537h1v1h-1zM149 537h1v1h-1zM108 538h1v1h-1zM148 538h1v1h-1zM109 539h1v1h-1zM147 539h1v1h-1zM110 540h1v1h-1zM145 540h2v1h-2zM111 541h1v1h-1zM144 541h1v1h-1zM112 542h1v1h-1zM143 542h1v1h-1zM113 543h1v1h-1zM141 543h2v1h-2zM114 544h1v1h-1zM140 544h1v1h-1zM115 545h1v1h-1zM138 545h2v1h-2zM116 546h2v1h-2zM136 546h2v1h-2zM118 547h2v1h-2zM134 547h2v1h-2zM120 548h2v1h-2zM132 548h2v1h-2zM122 549h10v1h-10z" fill="#000"/>
<path d="M302 387h6v1h-6zM300 388h2v1h-2zM308 388h2v1h-2zM298 389h2v1h-2zM310 389h3v1h-3zM296 390h2v1h-2zM313 390h4v1h-4zM282 391h6v1h-6zM294 391h2v1h-2zM317 391h3v1h-3zM280 392h2v1h-2zM288 392h2v1h-2zM292 392h2v1h-2zM320 392h2v1h-2zM279 393h1v1h-1zM290 393h2v1h-2zM322 393h2v1h-2zM279 394h1v1h-1zM324 394h2v1h-2zM278 395h1v1h-1zM326 395h2v1h-2zM278 396h1v1h-1zM328 396h2v1h-2zM277 397h1v1h-1zM330 397h2v1h-2zM277 398h1v1h-1zM332 398h1v1h-1zM276 399h1v1h-1zM333 399h1v1h-1zM276 400h1v1h-1zM334 400h1v1h-1zM275 401h1v1h-1zM335 401h1v1h-1zM275 402h1v1h-1zM336 402h1v1h-1zM274 403h1v1h-1zM337 403h1v1h-1zM274 404h1v1h-1zM338 404h1v1h-1zM274 405h1v1h-1zM339 405h1v1h-1zM274 406h1v1h-1zM340 406h1v1h-1zM273 407h1v1h-1zM341 407h1v1h-1zM273 408h1v1h-1zM342 408h1v1h-1zM273 409h1v1h-1zM343 409h1v1h-1zM272 410h1v1h-1zM344 410h1v1h-1zM272 411h1v1h-1zM344 411h1v1h-1zM235 412h5v1h-5zM272 412h1v1h-1zM345 412h1v1h-1zM233 413h2v1h-2zM240 413h2v1h-2zM272 413h1v1h-1zM345 413h1v1h-1zM232 414h1v1h-1zM242 414h2v1h-2zM271 414h1v1h-1zM346 414h1v1h-1zM230 415h2v1h-2zM244 415h1v1h-1zM270 415h2v1h-2zM346 415h1v1h-1zM228 416h2v1h-2zM245 416h2v1h-2zM268 416h2v1h-2zM347 416h1v1h-1zM227 417h1v1h-1zM247 417h2v1h-2zM265 417h3v1h-3zM348 417h1v1h-1zM226 418h1v1h-1zM249 418h3v1h-3zM262 418h3v1h-3zM348 418h1v1h-1zM225 419h1v1h-1zM252 419h2v1h-2zM260 419h2v1h-2zM349 419h1v1h-1zM225 420h1v1h-1zM254 420h6v1h-6zM349 420h1v1h-1zM224 421h1v1h-1zM350 421h1v1h-1zM223 422h1v1h-1zM350 422h1v1h-1zM222 423h1v1h-1zM351 423h1v1h-1zM221 424h1v1h-1zM352 424h1v1h-1zM221 425h1v1h-1zM352 425h1v1h-1zM220 426h1v1h-1zM353 426h1v1h-1zM219 427h1v1h-1zM353 427h1v1h-1zM217 428h2v1h-2zM354 428h1v1h-1zM216 429h1v1h-1zM354 429h1v1h-1zM215 430h1v1h-1zM355 430h1v1h-1zM213 431h2v1h-2zM356 431h1v1h-1zM953 431h4v1h-4zM212 432h1v1h-1zM356 432h1v1h-1zM950 432h3v1h-3zM957 432h4v1h-4zM211 433h1v1h-1zM357 433h1v1h-1zM948 433h2v1h-2zM961 433h4v1h-4zM209 434h2v1h-2zM358 434h1v1h-1zM946 434h2v1h-2zM965 434h8v1h-8zM208 435h1v1h-1zM358 435h1v1h-1zM944 435h2v1h-2zM973 435h3v1h-3zM207 436h1v1h-1zM359 436h1v1h-1zM942 436h2v1h-2zM976 436h1v1h-1zM206 437h1v1h-1zM360 437h1v1h-1zM940 437h2v1h-2zM977 437h2v1h-2zM205 438h1v1h-1zM361 438h2v1h-2zM938 438h2v1h-2zM979 438h1v1h-1zM205 439h1v1h-1zM363 439h5v1h-5zM936 439h2v1h-2zM980 439h1v1h-1zM204 440h1v1h-1zM368 440h2v1h-2zM387 440h2v1h-2zM933 440h3v1h-3zM980 440h1v1h-1zM203 441h1v1h-1zM370 441h2v1h-2zM385 441h2v1h-2zM389 441h8v1h-8zM931 441h2v1h-2zM981 441h1v1h-1zM202 442h1v1h-1zM372 442h2v1h-2zM384 442h1v1h-1zM397 442h3v1h-3zM929 442h2v1h-2zM981 442h1v1h-1zM201 443h1v1h-1zM374 443h10v1h-10zM400 443h1v1h-1zM928 443h1v1h-1zM982 443h1v1h-1zM201 444h1v1h-1zM401 444h2v1h-2zM927 444h1v1h-1zM982 444h1v1h-1zM200 445h1v1h-1zM403 445h1v1h-1zM925 445h2v1h-2zM983 445h1v1h-1zM199 446h1v1h-1zM404 446h1v1h-1zM924 446h1v1h-1zM984 446h1v1h-1zM197 447h2v1h-2zM405 447h2v1h-2zM923 447h1v1h-1zM985 447h1v1h-1zM196 448h1v1h-1zM407 448h2v1h-2zM550 448h3v1h-3zM921 448h2v1h-2zM985 448h1v1h-1zM195 449h1v1h-1zM409 449h3v1h-3zM548 449h2v1h-2zM553 449h4v1h-4zM920 449h1v1h-1zM986 449h1v1h-1zM193 450h2v1h-2zM412 450h2v1h-2zM547 450h1v1h-1zM557 450h4v1h-4zM919 450h1v1h-1zM192 451h1v1h-1zM414 451h3v1h-3zM545 451h2v1h-2zM561 451h20v1h-20zM918 451h1v1h-1zM191 452h1v1h-1zM417 452h8v1h-8zM544 452h1v1h-1zM581 452h4v1h-4zM918 452h1v1h-1zM190 453h1v1h-1zM425 453h4v1h-4zM541 453h3v1h-3zM585 453h4v1h-4zM917 453h1v1h-1zM189 454h1v1h-1zM429 454h3v1h-3zM537 454h4v1h-4zM589 454h4v1h-4zM635 454h1v1h-1zM661 454h4v1h-4zM916 454h1v1h-1zM189 455h1v1h-1zM432 455h2v1h-2zM445 455h4v1h-4zM533 455h4v1h-4zM593 455h3v1h-3zM617 455h4v1h-4zM633 455h2v1h-2zM636 455h2v1h-2zM657 455h4v1h-4zM665 455h4v1h-4zM916 455h1v1h-1zM188 456h1v1h-1zM434 456h11v1h-11zM449 456h3v1h-3zM529 456h4v1h-4zM596 456h2v1h-2zM613 456h4v1h-4zM621 456h3v1h-3zM632 456h1v1h-1zM638 456h3v1h-3zM649 456h8v1h-8zM669 456h3v1h-3zM913 456h3v1h-3zM187 457h1v1h-1zM452 457h2v1h-2zM525 457h4v1h-4zM598 457h15v1h-15zM624 457h2v1h-2zM629 457h3v1h-3zM641 457h8v1h-8zM672 457h2v1h-2zM911 457h2v1h-2zM186 458h1v1h-1zM454 458h2v1h-2zM511 458h14v1h-14zM626 458h3v1h-3zM674 458h3v1h-3zM909 458h2v1h-2zM186 459h1v1h-1zM456 459h2v1h-2zM509 459h2v1h-2zM677 459h3v1h-3zM908 459h1v1h-1zM185 460h1v1h-1zM458 460h2v1h-2zM508 460h1v1h-1zM680 460h2v1h-2zM801 460h20v1h-20zM907 460h1v1h-1zM185 461h1v1h-1zM460 461h2v1h-2zM506 461h2v1h-2zM682 461h2v1h-2zM799 461h2v1h-2zM821 461h3v1h-3zM905 461h2v1h-2zM184 462h1v1h-1zM462 462h11v1h-11zM504 462h2v1h-2zM684 462h2v1h-2zM797 462h2v1h-2zM824 462h2v1h-2zM904 462h1v1h-1zM184 463h1v1h-1zM473 463h4v1h-4zM489 463h15v1h-15zM686 463h3v1h-3zM796 463h1v1h-1zM826 463h2v1h-2zM903 463h1v1h-1zM181 464h3v1h-3zM477 464h12v1h-12zM689 464h4v1h-4zM795 464h1v1h-1zM828 464h2v1h-2zM901 464h2v1h-2zM179 465h2v1h-2zM693 465h4v1h-4zM793 465h2v1h-2zM830 465h11v1h-11zM900 465h1v1h-1zM179 466h1v1h-1zM697 466h3v1h-3zM792 466h1v1h-1zM841 466h3v1h-3zM899 466h1v1h-1zM178 467h1v1h-1zM700 467h2v1h-2zM785 467h7v1h-7zM844 467h2v1h-2zM897 467h2v1h-2zM178 468h1v1h-1zM702 468h6v1h-6zM769 468h16v1h-16zM846 468h2v1h-2zM896 468h1v1h-1zM178 469h1v1h-1zM708 469h2v1h-2zM761 469h8v1h-8zM848 469h1v1h-1zM895 469h1v1h-1zM177 470h1v1h-1zM710 470h2v1h-2zM733 470h28v1h-28zM849 470h1v1h-1zM893 470h2v1h-2zM177 471h1v1h-1zM712 471h1v1h-1zM729 471h4v1h-4zM849 471h1v1h-1zM892 471h1v1h-1zM176 472h1v1h-1zM713 472h2v1h-2zM726 472h3v1h-3zM850 472h1v1h-1zM881 472h11v1h-11zM176 473h1v1h-1zM715 473h2v1h-2zM724 473h2v1h-2zM851 473h1v1h-1zM873 473h8v1h-8zM176 474h1v1h-1zM717 474h7v1h-7zM852 474h2v1h-2zM871 474h2v1h-2zM175 475h1v1h-1zM854 475h2v1h-2zM869 475h2v1h-2zM175 476h1v1h-1zM856 476h1v1h-1zM868 476h1v1h-1zM174 477h1v1h-1zM857 477h2v1h-2zM865 477h3v1h-3zM173 478h1v1h-1zM859 478h6v1h-6zM172 479h1v1h-1zM39 480h1v1h-1zM171 480h1v1h-1zM37 481h2v1h-2zM40 481h1v1h-1zM171 481h1v1h-1zM36 482h1v1h-1zM41 482h2v1h-2zM170 482h1v1h-1zM34 483h2v1h-2zM43 483h1v1h-1zM170 483h1v1h-1zM32 484h2v1h-2zM44 484h1v1h-1zM169 484h1v1h-1zM31 485h1v1h-1zM45 485h1v1h-1zM169 485h1v1h-1zM29 486h2v1h-2zM45 486h1v1h-1zM168 486h1v1h-1zM28 487h1v1h-1zM46 487h1v1h-1zM168 487h1v1h-1zM27 488h1v1h-1zM47 488h1v1h-1zM167 488h1v1h-1zM25 489h2v1h-2zM48 489h1v1h-1zM166 489h1v1h-1zM24 490h1v1h-1zM48 490h1v1h-1zM166 490h1v1h-1zM22 491h2v1h-2zM49 491h1v1h-1zM165 491h1v1h-1zM20 492h2v1h-2zM50 492h1v1h-1zM165 492h1v1h-1zM17 493h3v1h-3zM50 493h1v1h-1zM164 493h1v1h-1zM15 494h2v1h-2zM51 494h1v1h-1zM164 494h1v1h-1zM13 495h2v1h-2zM52 495h1v1h-1zM163 495h1v1h-1zM12 496h1v1h-1zM53 496h1v1h-1zM163 496h1v1h-1zM9 497h3v1h-3zM53 497h1v1h-1zM162 497h1v1h-1zM3 498h6v1h-6zM54 498h1v1h-1zM162 498h1v1h-1zM55 499h1v1h-1zM161 499h1v1h-1zM56 500h1v1h-1zM161 500h1v1h-1zM57 501h1v1h-1zM160 501h1v1h-1zM57 502h1v1h-1zM160 502h1v1h-1zM58 503h1v1h-1zM159 503h1v1h-1zM59 504h1v1h-1zM158 504h1v1h-1zM60 505h2v1h-2zM158 505h1v1h-1zM62 506h2v1h-2zM157 506h1v1h-1zM64 507h2v1h-2zM157 507h1v1h-1zM66 508h2v1h-2zM156 508h1v1h-1zM68 509h2v1h-2zM156 509h1v1h-1zM70 510h2v1h-2zM155 510h1v1h-1zM72 511h1v1h-1zM154 511h1v1h-1zM73 512h1v1h-1zM154 512h1v1h-1zM73 513h1v1h-1zM153 513h1v1h-1zM74 514h1v1h-1zM153 514h1v1h-1zM75 515h1v1h-1zM152 515h1v1h-1zM76 516h1v1h-1zM152 516h1v1h-1zM77 517h1v1h-1zM151 517h1v1h-1zM77 518h1v1h-1zM150 518h1v1h-1zM78 519h1v1h-1zM150 519h1v1h-1zM79 520h1v1h-1zM149 520h1v1h-1zM80 521h1v1h-1zM149 521h1v1h-1zM81 522h1v1h-1zM148 522h1v1h-1zM81 523h1v1h-1zM148 523h1v1h-1zM82 524h1v1h-1zM147 524h1v1h-1zM83 525h1v1h-1zM146 525h1v1h-1zM84 526h1v1h-1zM145 526h1v1h-1zM84 527h1v1h-1zM145 527h1v1h-1zM85 528h1v1h-1zM144 528h1v1h-1zM85 529h1v1h-1zM143 529h1v1h-1zM86 530h1v1h-1zM142 530h1v1h-1zM86 531h1v1h-1zM141 531h1v1h-1zM87 532h1v1h-1zM141 532h1v1h-1zM87 533h1v1h-1zM140 533h1v1h-1zM88 534h1v1h-1zM139 534h1v1h-1zM88 535h1v1h-1zM138 535h1v1h-1zM89 536h1v1h-1zM137 536h1v1h-1zM89 537h1v1h-1zM136 537h1v1h-1zM90 538h1v1h-1zM135 538h1v1h-1zM90 539h1v1h-1zM133 539h2v1h-2zM91 540h1v1h-1zM132 540h1v1h-1zM91 541h1v1h-1zM129 541h3v1h-3zM92 542h1v1h-1zM127 542h2v1h-2zM92 543h1v1h-1zM125 543h2v1h-2zM93 544h1v1h-1zM124 544h1v1h-1zM94 545h1v1h-1zM122 545h2v1h-2zM94 546h1v1h-1zM120 546h2v1h-2zM95 547h1v1h-1zM119 547h1v1h-1zM96 548h1v1h-1zM117 548h2v1h-2zM97 549h1v1h-1zM116 549h1v1h-1zM97 550h1v1h-1zM114 550h2v1h-2zM98 551h1v1h-1zM112 551h2v1h-2zM99 552h2v1h-2zM109 552h3v1h-3zM101 553h8v1h-8z" fill="#cccccc"/>
<path d="M2 2h998v1h-998zM2 2h1v374h-1zM2 375h998v1h-998zM999 2h1v374h-1zM2 377h998v1h-998zM2 377h1v186h-1zM2 562h998v1h-998zM999 377h1v186h-1zM1000 9h2v1h-2zM1000 42h2v1h-2zM1000 75h2v1h-2zM1000 108h2v1h-2zM1000 141h2v1h-2zM1000 174h2v1h-2zM1000 207h2v1h-2zM1000 240h2v1h-2zM1000 273h2v1h-2zM1000 306h2v1h-2zM1000 339h2v1h-2zM1000 372h2v1h-2zM1000 378h2v1h-2zM1000 466h2v1h-2zM1000 561h1v1h-1zM3 563h1v3h-1zM67 563h1v3h-1zM131 563h1v3h-1zM195 563h1v3h-1zM259 563h1v3h-1zM323 563h1v3h-1zM387 563h1v3h-1zM451 563h1v3h-1zM515 563h1v3h-1zM579 563h1v3h-1zM643 563h1v3h-1zM707 563h1v3h-1zM771 563h1v3h-1zM835 563h1v3h-1zM899 563h1v3h-1zM963 563h1v3h-1z" fill="#000"/>
<text x="1005.2" y="13" textLength="32.7" lengthAdjust="spacingAndGlyphs">13861.0</text>
<text x="1005.2" y="46" textLength="32.7" lengthAdjust="spacingAndGlyphs">13623.0</text>
<text x="1005.2" y="79" textLength="32.7" lengthAdjust="spacingAndGlyphs">13392.0</text>
<text x="1005.2" y="112" textLength="32.7" lengthAdjust="spacingAndGlyphs">13154.0</text>
<text x="1005.2" y="145" textLength="32.7" lengthAdjust="spacingAndGlyphs">12923.0</text>
<text x="1005.2" y="178" textLength="32.7" lengthAdjust="spacingAndGlyphs">12685.0</text>
<text x="1005.2" y="211" textLength="32.7" lengthAdjust="spacingAndGlyphs">12454.0</text>
<text x="1005.2" y="244" textLength="32.7" lengthAdjust="spacingAndGlyphs">12216.0</text>
<text x="1005.2" y="277" textLength="32.7" lengthAdjust="spacingAndGlyphs">11985.0</text>
<text x="1005.2" y="310" textLength="32.7" lengthAdjust="spacingAndGlyphs">11747.0</text>
<text x="1005.2" y="343" textLength="32.7" lengthAdjust="spacingAndGlyphs">11516.0</text>
<text x="1005.2" y="376" textLength="32.7" lengthAdjust="spacingAndGlyphs">11285.0</text>
<text x="1003.1" y="388" textLength="22.9" lengthAdjust="spacingAndGlyphs">271.8</text>
<text x="1003.1" y="470" textLength="17.8" lengthAdjust="spacingAndGlyphs">0.00</text>
<text x="1003.0" y="559" textLength="31.0" lengthAdjust="spacingAndGlyphs">-298.38</text>
<rect x="1001" y="70" width="41" height="2" fill="#000"/>
<rect x="1001" y="59" width="41" height="11" fill="#f00"/>
<text x="1005.4" y="68" textLength="32.5" lengthAdjust="spacingAndGlyphs" class="w">13459.8</text>
<rect x="1001" y="124" width="41" height="11" fill="#f00"/>
<text x="1005.4" y="133" textLength="32.5" lengthAdjust="spacingAndGlyphs" class="w">12996.6</text>
<text x="8.0" y="14" textLength="59.8" lengthAdjust="spacingAndGlyphs">FDAXCash,H4</text>
<text x="74.7" y="14" textLength="31.6" lengthAdjust="spacingAndGlyphs">13447.1</text>
<text x="110.9" y="14" textLength="31.6" lengthAdjust="spacingAndGlyphs">13456.6</text>
<text x="146.9" y="14" textLength="31.6" lengthAdjust="spacingAndGlyphs">13446.1</text>
<text x="182.7" y="14" textLength="31.6" lengthAdjust="spacingAndGlyphs">13456.1</text>
<text x="7.7" y="390" textLength="65.1" lengthAdjust="spacingAndGlyphs">MACD(12,26,9)</text>
<text x="76.6" y="390" textLength="21.4" lengthAdjust="spacingAndGlyphs">52.11</text>
<text x="102.4" y="390" textLength="23.0" lengthAdjust="spacingAndGlyphs">92.28</text>
<text x="131.7" y="390" textLength="35.2" lengthAdjust="spacingAndGlyphs">-&gt;MA(1)</text>
<text x="170.7" y="390" textLength="21.3" lengthAdjust="spacingAndGlyphs">52.11</text>
<text x="2.2" y="575" textLength="50.8" lengthAdjust="spacingAndGlyphs">22 Oct 2020</text>
<text x="66.2" y="575" textLength="53.2" lengthAdjust="spacingAndGlyphs">27 Oct 08:00</text>
<text x="130.2" y="575" textLength="53.2" lengthAdjust="spacingAndGlyphs">30 Oct 12:00</text>
<text x="194.2" y="575" textLength="50.7" lengthAdjust="spacingAndGlyphs">4 Nov 04:00</text>
<text x="258.2" y="575" textLength="50.7" lengthAdjust="spacingAndGlyphs">6 Nov 20:00</text>
<text x="322.2" y="575" textLength="55.8" lengthAdjust="spacingAndGlyphs">11 Nov 12:00</text>
<text x="386.2" y="575" textLength="55.8" lengthAdjust="spacingAndGlyphs">16 Nov 04:00</text>
<text x="450.2" y="575" textLength="55.8" lengthAdjust="spacingAndGlyphs">18 Nov 20:00</text>
<text x="514.2" y="575" textLength="55.8" lengthAdjust="spacingAndGlyphs">23 Nov 12:00</text>
<text x="578.2" y="575" textLength="55.8" lengthAdjust="spacingAndGlyphs">26 Nov 04:00</text>
<text x="642.2" y="575" textLength="55.8" lengthAdjust="spacingAndGlyphs">30 Nov 20:00</text>
<text x="706.2" y="575" textLength="49.1" lengthAdjust="spacingAndGlyphs">3 Dec 12:00</text>
<text x="770.2" y="575" textLength="49.1" lengthAdjust="spacingAndGlyphs">8 Dec 04:00</text>
<text x="834.2" y="575" textLength="54.2" lengthAdjust="spacingAndGlyphs">10 Dec 20:00</text>
<text x="898.2" y="575" textLength="54.2" lengthAdjust="spacingAndGlyphs">15 Dec 12:00</text>
<text x="962.2" y="575" textLength="54.2" lengthAdjust="spacingAndGlyphs">18 Dec 04:00</text>
</svg></body></html>
